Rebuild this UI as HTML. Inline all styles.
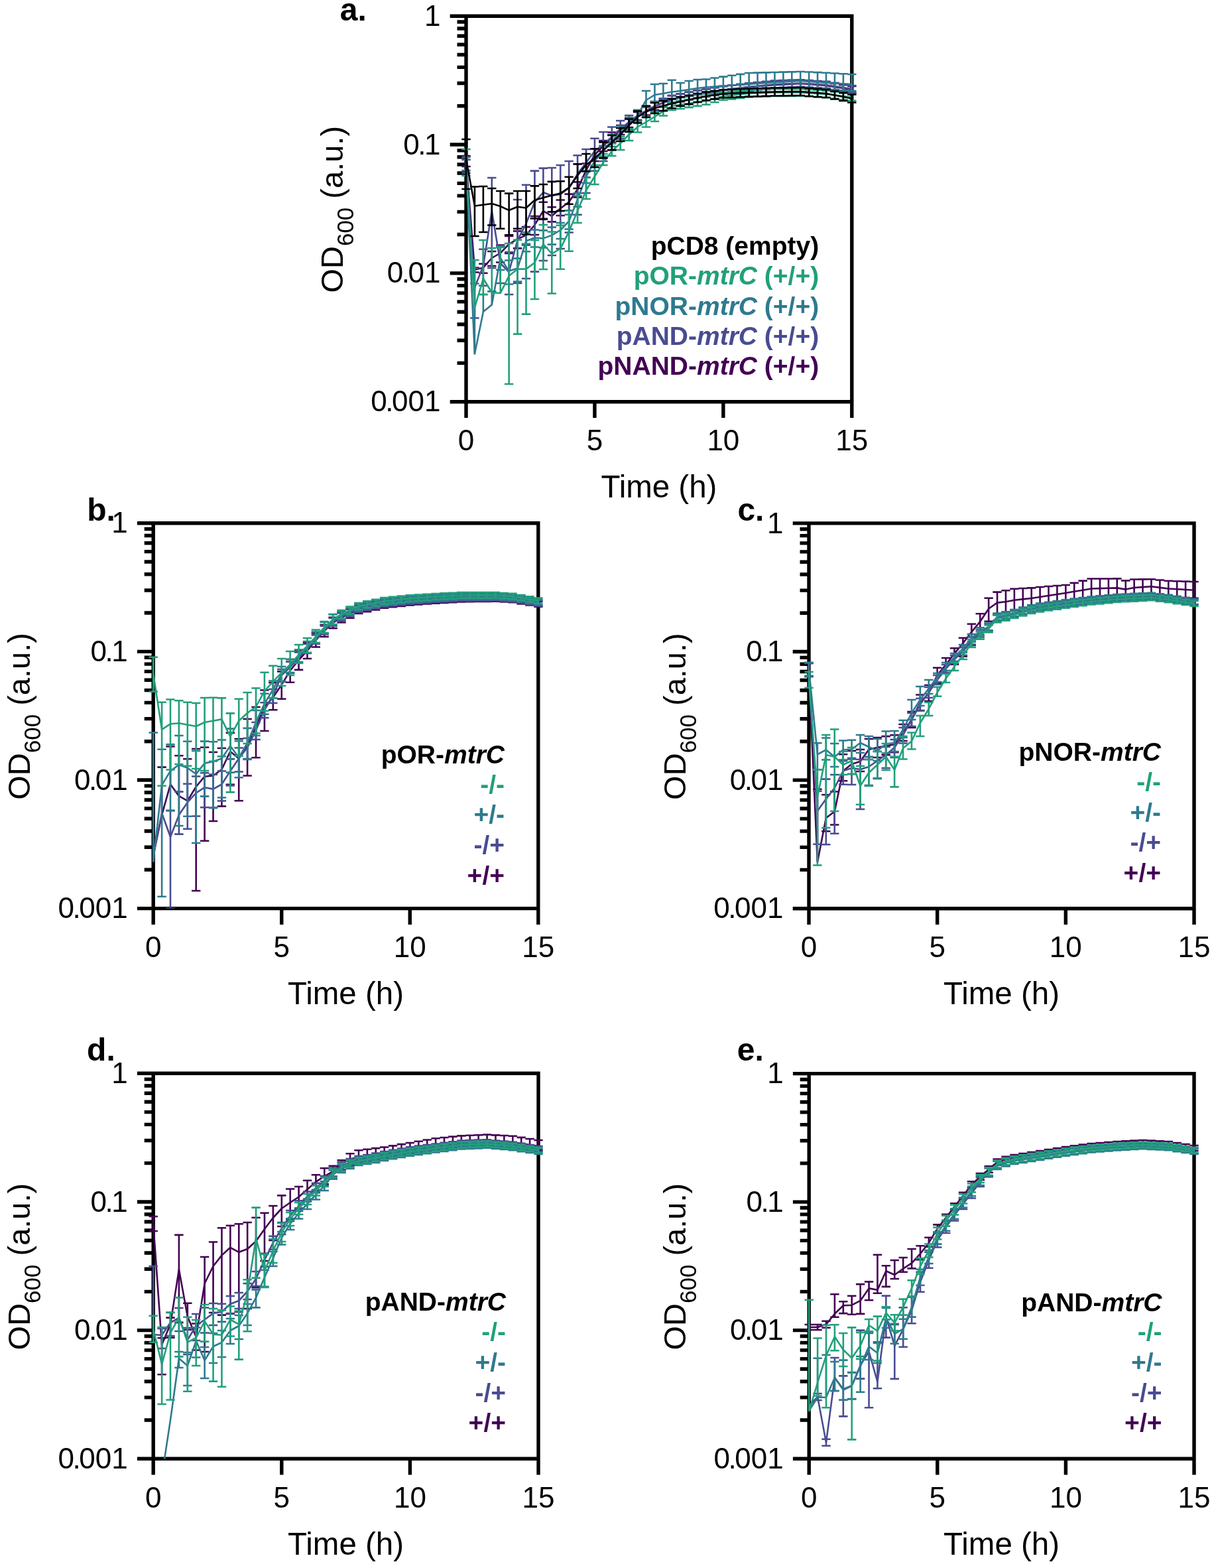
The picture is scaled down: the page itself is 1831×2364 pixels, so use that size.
<!DOCTYPE html>
<html><head><meta charset="utf-8"><title>Growth curves</title>
<style>html,body{margin:0;padding:0;background:#fff;}svg{display:block;}</style>
</head><body>
<svg xmlns="http://www.w3.org/2000/svg" width="1831" height="2364" viewBox="0 0 1831 2364">
<rect width="1831" height="2364" fill="#fff"/>
<path fill="none" stroke="#000" stroke-width="5.4" stroke-linecap="square" d="M703 24.2H1284.8V605.7H703ZM703 159.68H692.2M703 125.55H692.2M703 101.33H692.2M703 82.55H692.2M703 67.2H692.2M703 54.23H692.2M703 42.98H692.2M703 33.07H692.2M703 353.52H692.2M703 319.38H692.2M703 295.17H692.2M703 276.38H692.2M703 261.04H692.2M703 248.06H692.2M703 236.82H692.2M703 226.9H692.2M703 547.35H692.2M703 513.22H692.2M703 489H692.2M703 470.22H692.2M703 454.87H692.2M703 441.89H692.2M703 430.65H692.2M703 420.74H692.2M703 24.2H681.4M703 218.03H681.4M703 411.87H681.4M703 605.7H681.4M703 605.7V627.3M896.93 605.7V627.3M1090.87 605.7V627.3M1284.8 605.7V627.3"/>
<clipPath id="clipa"><rect x="663" y="-75.8" width="661.8" height="681.5"/></clipPath>
<g fill="none" stroke-linecap="butt" stroke-linejoin="round" clip-path="url(#clipa)">
<path stroke="#440154" stroke-width="2.6" d="M703 243V235M696.3 235H709.7M703 243V251M696.3 251H709.7M715.93 406.5V403.5M709.23 403.5H722.63M715.93 406.5V410.5M709.23 410.5H722.63M728.86 403.7V397.7M722.16 397.7H735.56M728.86 403.7V411.7M722.16 411.7H735.56M741.79 389V379M735.09 379H748.49M741.79 389V401M735.09 401H748.49M754.72 381.5V369.5M748.02 369.5H761.42M754.72 381.5V395.5M748.02 395.5H761.42M767.64 368V356M760.94 356H774.34M767.64 368V382M760.94 382H774.34M780.57 360.4V348.4M773.87 348.4H787.27M780.57 360.4V374.4M773.87 374.4H787.27M793.5 354.6V342.1M786.8 342.1H800.2M793.5 354.6V369.1M786.8 369.1H800.2M806.43 339V326M799.73 326H813.13M806.43 339V354M799.73 354H813.13M819.36 318V304.75M812.66 304.75H826.06M819.36 318V329.8M812.66 329.8H826.06M832.29 325.8V312.3M825.59 312.3H838.99M832.29 325.8V334.4M825.59 334.4H838.99M845.22 314.2V301.45M838.52 301.45H851.92M845.22 314.2V325M838.52 325H851.92M858.15 304.6V292.6M851.45 292.6H864.85M858.15 304.6V317.6M851.45 317.6H864.85M871.08 285.4V274.4M864.38 274.4H877.78M871.08 285.4V297.4M864.38 297.4H877.78M884 256.5V246.5M877.3 246.5H890.7M884 256.5V267.5M877.3 267.5H890.7M896.93 233.5V224.5M890.23 224.5H903.63M896.93 233.5V243M890.23 243H903.63M909.86 220V212M903.16 212H916.56M909.86 220V228M903.16 228H916.56M922.79 207V199.5M916.09 199.5H929.49M922.79 207V214.5M916.09 214.5H929.49M935.72 196V189M929.02 189H942.42M935.72 196V203M929.02 203H942.42M948.65 185.5V179M941.95 179H955.35M948.65 185.5V192M941.95 192H955.35M961.58 175V169M954.88 169H968.28M961.58 175V181M954.88 181H968.28M974.51 167.5V161.54M967.81 161.54H981.21M974.51 167.5V173.46M967.81 173.46H981.21M987.44 160V154.08M980.74 154.08H994.14M987.44 160V165.92M980.74 165.92H994.14M1000.36 155V149.12M993.66 149.12H1007.06M1000.36 155V160.88M993.66 160.88H1007.06M1013.29 150V144.16M1006.59 144.16H1019.99M1013.29 150V155.84M1006.59 155.84H1019.99M1026.22 147.33V141.53M1019.52 141.53H1032.92M1026.22 147.33V153.13M1019.52 153.13H1032.92M1039.15 144.67V138.91M1032.45 138.91H1045.85M1039.15 144.67V150.43M1032.45 150.43H1045.85M1052.08 142V136.28M1045.38 136.28H1058.78M1052.08 142V147.72M1045.38 147.72H1058.78M1065.01 139.83V134.15M1058.31 134.15H1071.71M1065.01 139.83V145.51M1058.31 145.51H1071.71M1077.94 137.67V132.03M1071.24 132.03H1084.64M1077.94 137.67V143.31M1071.24 143.31H1084.64M1090.87 135.5V129.9M1084.17 129.9H1097.57M1090.87 135.5V141.1M1084.17 141.1H1097.57M1103.8 134V128.44M1097.1 128.44H1110.5M1103.8 134V139.56M1097.1 139.56H1110.5M1116.72 132.5V126.98M1110.02 126.98H1123.42M1116.72 132.5V138.02M1110.02 138.02H1123.42M1129.65 131V125.52M1122.95 125.52H1136.35M1129.65 131V136.48M1122.95 136.48H1136.35M1142.58 130V124.56M1135.88 124.56H1149.28M1142.58 130V135.44M1135.88 135.44H1149.28M1155.51 129V123.6M1148.81 123.6H1162.21M1155.51 129V134.4M1148.81 134.4H1162.21M1168.44 128V122.64M1161.74 122.64H1175.14M1168.44 128V133.36M1161.74 133.36H1175.14M1181.37 127.33V122.01M1174.67 122.01H1188.07M1181.37 127.33V132.65M1174.67 132.65H1188.07M1194.3 126.67V121.39M1187.6 121.39H1201M1194.3 126.67V131.95M1187.6 131.95H1201M1207.23 126V120.76M1200.53 120.76H1213.93M1207.23 126V131.24M1200.53 131.24H1213.93M1220.16 127V121.8M1213.46 121.8H1226.86M1220.16 127V132.2M1213.46 132.2H1226.86M1233.08 128V122.84M1226.38 122.84H1239.78M1233.08 128V133.16M1226.38 133.16H1239.78M1246.01 129V123.88M1239.31 123.88H1252.71M1246.01 129V134.12M1239.31 134.12H1252.71M1258.94 131V125.92M1252.24 125.92H1265.64M1258.94 131V136.08M1252.24 136.08H1265.64M1271.87 133V127.96M1265.17 127.96H1278.57M1271.87 133V138.04M1265.17 138.04H1278.57M1284.8 135V130M1278.1 130H1291.5M1284.8 135V140M1278.1 140H1291.5"/>
<polyline stroke="#440154" stroke-width="2.6" points="703,243 715.93,406.5 728.86,403.7 741.79,389 754.72,381.5 767.64,368 780.57,360.4 793.5,354.6 806.43,339 819.36,318 832.29,325.8 845.22,314.2 858.15,304.6 871.08,285.4 884,256.5 896.93,233.5 909.86,220 922.79,207 935.72,196 948.65,185.5 961.58,175 974.51,167.5 987.44,160 1000.36,155 1013.29,150 1026.22,147.33 1039.15,144.67 1052.08,142 1065.01,139.83 1077.94,137.67 1090.87,135.5 1103.8,134 1116.72,132.5 1129.65,131 1142.58,130 1155.51,129 1168.44,128 1181.37,127.33 1194.3,126.67 1207.23,126 1220.16,127 1233.08,128 1246.01,129 1258.94,131 1271.87,133 1284.8,135"/>
<path stroke="#494c91" stroke-width="2.6" d="M703 250.8V240.8M696.3 240.8H709.7M703 250.8V260.8M696.3 260.8H709.7M715.93 433.5V404.5M709.23 404.5H722.63M715.93 433.5V479.5M709.23 479.5H722.63M728.86 400.8V375.8M722.16 375.8H735.56M728.86 400.8V430.8M722.16 430.8H735.56M741.79 318V268M735.09 268H748.49M741.79 318V404M735.09 404H748.49M754.72 397V372M748.02 372H761.42M754.72 397V427M748.02 427H761.42M767.64 410V380M760.94 380H774.34M767.64 410V444M760.94 444H774.34M780.57 362V301M773.87 301H787.27M780.57 362V427M773.87 427H787.27M793.5 337.3V278.7M786.8 278.7H800.2M793.5 337.3V420M786.8 420H800.2M806.43 304.6V257.6M799.73 257.6H813.13M806.43 304.6V409.6M799.73 409.6H813.13M819.36 290V253.6M812.66 253.6H826.06M819.36 290V393M812.66 393H826.06M832.29 295V253M825.59 253H838.99M832.29 295V385M825.59 385H838.99M845.22 293V249M838.52 249H851.92M845.22 293V375M838.52 375H851.92M858.15 283.5V243M851.45 243H864.85M858.15 283.5V350.5M851.45 350.5H864.85M871.08 262.3V234.3M864.38 234.3H877.78M871.08 262.3V323.8M864.38 323.8H877.78M884 245V225M877.3 225H890.7M884 245V291M877.3 291H890.7M896.93 227.7V208.7M890.23 208.7H903.63M896.93 227.7V257.7M890.23 257.7H903.63M909.86 218V199M903.16 199H916.56M909.86 218V243M903.16 243H916.56M922.79 206.5V191.5M916.09 191.5H929.49M922.79 206.5V226.5M916.09 226.5H929.49M935.72 194V182M929.02 182H942.42M935.72 194V209M929.02 209H942.42M948.65 184V174M941.95 174H955.35M948.65 184V195.5M941.95 195.5H955.35M961.58 174V166M954.88 166H968.28M961.58 174V182M954.88 182H968.28M974.51 167V159.5M967.81 159.5H981.21M974.51 167V174.5M967.81 174.5H981.21M987.44 160V153M980.74 153H994.14M987.44 160V167M980.74 167H994.14M1000.36 155V148.5M993.66 148.5H1007.06M1000.36 155V161.5M993.66 161.5H1007.06M1013.29 150V144M1006.59 144H1019.99M1013.29 150V156M1006.59 156H1019.99M1026.22 147.33V141.38M1019.52 141.38H1032.92M1026.22 147.33V153.29M1019.52 153.29H1032.92M1039.15 144.67V138.76M1032.45 138.76H1045.85M1039.15 144.67V150.57M1032.45 150.57H1045.85M1052.08 142V136.14M1045.38 136.14H1058.78M1052.08 142V147.86M1045.38 147.86H1058.78M1065.01 140V134.19M1058.31 134.19H1071.71M1065.01 140V145.81M1058.31 145.81H1071.71M1077.94 138V132.24M1071.24 132.24H1084.64M1077.94 138V143.76M1071.24 143.76H1084.64M1090.87 136V130.29M1084.17 130.29H1097.57M1090.87 136V141.71M1084.17 141.71H1097.57M1103.8 134.33V128.67M1097.1 128.67H1110.5M1103.8 134.33V140M1097.1 140H1110.5M1116.72 132.67V127.05M1110.02 127.05H1123.42M1116.72 132.67V138.29M1110.02 138.29H1123.42M1129.65 131V125.43M1122.95 125.43H1136.35M1129.65 131V136.57M1122.95 136.57H1136.35M1142.58 129.67V124.14M1135.88 124.14H1149.28M1142.58 129.67V135.19M1135.88 135.19H1149.28M1155.51 128.33V122.86M1148.81 122.86H1162.21M1155.51 128.33V133.81M1148.81 133.81H1162.21M1168.44 127V121.57M1161.74 121.57H1175.14M1168.44 127V132.43M1161.74 132.43H1175.14M1181.37 126.5V121.12M1174.67 121.12H1188.07M1181.37 126.5V131.88M1174.67 131.88H1188.07M1194.3 126V120.67M1187.6 120.67H1201M1194.3 126V131.33M1187.6 131.33H1201M1207.23 125.5V120.21M1200.53 120.21H1213.93M1207.23 125.5V130.79M1200.53 130.79H1213.93M1220.16 126.33V121.1M1213.46 121.1H1226.86M1220.16 126.33V131.57M1213.46 131.57H1226.86M1233.08 127.17V121.98M1226.38 121.98H1239.78M1233.08 127.17V132.36M1226.38 132.36H1239.78M1246.01 128V122.86M1239.31 122.86H1252.71M1246.01 128V133.14M1239.31 133.14H1252.71M1258.94 130V124.9M1252.24 124.9H1265.64M1258.94 130V135.1M1252.24 135.1H1265.64M1271.87 132V126.95M1265.17 126.95H1278.57M1271.87 132V137.05M1265.17 137.05H1278.57M1284.8 134V129M1278.1 129H1291.5M1284.8 134V139M1278.1 139H1291.5"/>
<polyline stroke="#494c91" stroke-width="2.6" points="703,250.8 715.93,433.5 728.86,400.8 741.79,318 754.72,397 767.64,410 780.57,362 793.5,337.3 806.43,304.6 819.36,290 832.29,295 845.22,293 858.15,283.5 871.08,262.3 884,245 896.93,227.7 909.86,218 922.79,206.5 935.72,194 948.65,184 961.58,174 974.51,167 987.44,160 1000.36,155 1013.29,150 1026.22,147.33 1039.15,144.67 1052.08,142 1065.01,140 1077.94,138 1090.87,136 1103.8,134.33 1116.72,132.67 1129.65,131 1142.58,129.67 1155.51,128.33 1168.44,127 1181.37,126.5 1194.3,126 1207.23,125.5 1220.16,126.33 1233.08,127.17 1246.01,128 1258.94,130 1271.87,132 1284.8,134"/>
<path stroke="#2e7a8f" stroke-width="2.6" d="M703 247V237M696.3 237H709.7M703 247V257M696.3 257H709.7M715.93 533.5V427.5M709.23 427.5H722.63M728.86 470V444M722.16 444H735.56M741.79 459.4V439.4M735.09 439.4H748.49M754.72 389V371M748.02 371H761.42M754.72 389V407M748.02 407H761.42M767.64 408.5V392.5M760.94 392.5H774.34M767.64 408.5V428.5M760.94 428.5H774.34M780.57 404.6V389.6M773.87 389.6H787.27M780.57 404.6V424.6M773.87 424.6H787.27M793.5 363.3V350.3M786.8 350.3H800.2M793.5 363.3V379.3M786.8 379.3H800.2M806.43 358.5V346.5M799.73 346.5H813.13M806.43 358.5V372.5M799.73 372.5H813.13M819.36 359.4V347.4M812.66 347.4H826.06M819.36 359.4V373.4M812.66 373.4H826.06M832.29 354.6V342.6M825.59 342.6H838.99M832.29 354.6V368.6M825.59 368.6H838.99M845.22 347V336M838.52 336H851.92M845.22 347V360M838.52 360H851.92M858.15 333.5V323.5M851.45 323.5H864.85M858.15 333.5V345.5M851.45 345.5H864.85M871.08 300.8V291.3M864.38 291.3H877.78M871.08 300.8V311.8M864.38 311.8H877.78M884 266V257M877.3 257H890.7M884 266V276M877.3 276H890.7M896.93 243V234.5M890.23 234.5H903.63M896.93 243V252M890.23 252H903.63M909.86 227.7V219.7M903.16 219.7H916.56M909.86 227.7V235.7M903.16 235.7H916.56M922.79 212V203M916.09 203H929.49M922.79 212V221M916.09 221H929.49M935.72 200V190M929.02 190H942.42M935.72 200V210M929.02 210H942.42M948.65 189V177M941.95 177H955.35M948.65 189V199M941.95 199H955.35M961.58 174V166M954.88 166H968.28M961.58 174V184M954.88 184H968.28M974.51 151V137M967.81 137H981.21M974.51 151V161M967.81 161H981.21M987.44 143V127M980.74 127H994.14M987.44 143V153M980.74 153H994.14M1000.36 141V126M993.66 126H1007.06M1000.36 141V151M993.66 151H1007.06M1013.29 138.5V120.8M1006.59 120.8H1019.99M1013.29 138.5V148.5M1006.59 148.5H1019.99M1026.22 137V125M1019.52 125H1032.92M1026.22 137V147M1019.52 147H1032.92M1039.15 135V122M1032.45 122H1045.85M1039.15 135V145M1032.45 145H1045.85M1052.08 133V120M1045.38 120H1058.78M1052.08 133V143M1045.38 143H1058.78M1065.01 131.5V119.5M1058.31 119.5H1071.71M1065.01 131.5V141.5M1058.31 141.5H1071.71M1077.94 130.55V117.55M1071.24 117.55H1084.64M1077.94 130.55V140.55M1071.24 140.55H1084.64M1090.87 129.6V115.6M1084.17 115.6H1097.57M1090.87 129.6V139.6M1084.17 139.6H1097.57M1103.8 128.73V113.73M1097.1 113.73H1110.5M1103.8 128.73V138.73M1097.1 138.73H1110.5M1116.72 127.87V111.87M1110.02 111.87H1123.42M1116.72 127.87V137.87M1110.02 137.87H1123.42M1129.65 127V110M1122.95 110H1136.35M1129.65 127V137M1122.95 137H1136.35M1142.58 126V109.67M1135.88 109.67H1149.28M1142.58 126V136M1135.88 136H1149.28M1155.51 125V109.33M1148.81 109.33H1162.21M1155.51 125V135M1148.81 135H1162.21M1168.44 124V109M1161.74 109H1175.14M1168.44 124V134M1161.74 134H1175.14M1181.37 123.33V108.67M1174.67 108.67H1188.07M1181.37 123.33V133.33M1174.67 133.33H1188.07M1194.3 122.67V108.33M1187.6 108.33H1201M1194.3 122.67V132.67M1187.6 132.67H1201M1207.23 122V108M1200.53 108H1213.93M1207.23 122V132M1200.53 132H1213.93M1220.16 122.9V108.57M1213.46 108.57H1226.86M1220.16 122.9V132.9M1213.46 132.9H1226.86M1233.08 123.8V109.13M1226.38 109.13H1239.78M1233.08 123.8V133.8M1226.38 133.8H1239.78M1246.01 124.7V109.7M1239.31 109.7H1252.71M1246.01 124.7V134.7M1239.31 134.7H1252.71M1258.94 125.47V110.47M1252.24 110.47H1265.64M1258.94 125.47V135.47M1252.24 135.47H1265.64M1271.87 126.23V111.23M1265.17 111.23H1278.57M1271.87 126.23V136.23M1265.17 136.23H1278.57M1284.8 127V112M1278.1 112H1291.5M1284.8 127V137M1278.1 137H1291.5"/>
<polyline stroke="#2e7a8f" stroke-width="2.6" points="703,247 715.93,533.5 728.86,470 741.79,459.4 754.72,389 767.64,408.5 780.57,404.6 793.5,363.3 806.43,358.5 819.36,359.4 832.29,354.6 845.22,347 858.15,333.5 871.08,300.8 884,266 896.93,243 909.86,227.7 922.79,212 935.72,200 948.65,189 961.58,174 974.51,151 987.44,143 1000.36,141 1013.29,138.5 1026.22,137 1039.15,135 1052.08,133 1065.01,131.5 1077.94,130.55 1090.87,129.6 1103.8,128.73 1116.72,127.87 1129.65,127 1142.58,126 1155.51,125 1168.44,124 1181.37,123.33 1194.3,122.67 1207.23,122 1220.16,122.9 1233.08,123.8 1246.01,124.7 1258.94,125.47 1271.87,126.23 1284.8,127"/>
<path stroke="#21a07b" stroke-width="2.6" d="M703 245V225M696.3 225H709.7M703 245V265M696.3 265H709.7M715.93 464V392M709.23 392H722.63M728.86 420V362M722.16 362H735.56M728.86 420V444M722.16 444H735.56M741.79 441V374M735.09 374H748.49M754.72 442V373M748.02 373H761.42M767.64 416V367M760.94 367H774.34M767.64 416V579M760.94 579H774.34M780.57 405.6V361.6M773.87 361.6H787.27M780.57 405.6V503.6M773.87 503.6H787.27M793.5 405.6V367.6M786.8 367.6H800.2M793.5 405.6V473.6M786.8 473.6H800.2M806.43 396V362M799.73 362H813.13M806.43 396V451M799.73 451H813.13M819.36 368V339M812.66 339H826.06M819.36 368V406M812.66 406H826.06M832.29 382.5V349.5M825.59 349.5H838.99M832.29 382.5V442.5M825.59 442.5H838.99M845.22 374.8V339.8M838.52 339.8H851.92M845.22 374.8V405.8M838.52 405.8H851.92M858.15 348.8V317.8M851.45 317.8H864.85M858.15 348.8V378.8M851.45 378.8H864.85M871.08 318V295M864.38 295H877.78M871.08 318V336M864.38 336H877.78M884 287V268M877.3 268H890.7M884 287V300M877.3 300H890.7M896.93 266V249M890.23 249H903.63M896.93 266V278M890.23 278H903.63M909.86 245V232M903.16 232H916.56M909.86 245V249M903.16 249H916.56M922.79 228V216.5M916.09 216.5H929.49M922.79 228V235M916.09 235H929.49M935.72 216V206M929.02 206H942.42M935.72 216V226M929.02 226H942.42M948.65 203V194M941.95 194H955.35M948.65 203V212M941.95 212H955.35M961.58 191.5V183.5M954.88 183.5H968.28M961.58 191.5V199.5M954.88 199.5H968.28M974.51 184V176.5M967.81 176.5H981.21M974.51 184V191.5M967.81 191.5H981.21M987.44 176V169M980.74 169H994.14M987.44 176V183M980.74 183H994.14M1000.36 168V161.5M993.66 161.5H1007.06M1000.36 168V174.5M993.66 174.5H1007.06M1013.29 160V154M1006.59 154H1019.99M1013.29 160V166M1006.59 166H1019.99M1026.22 158V152.05M1019.52 152.05H1032.92M1026.22 158V163.95M1019.52 163.95H1032.92M1039.15 156V150.1M1032.45 150.1H1045.85M1039.15 156V161.9M1032.45 161.9H1045.85M1052.08 154V148.14M1045.38 148.14H1058.78M1052.08 154V159.86M1045.38 159.86H1058.78M1065.01 152V146.19M1058.31 146.19H1071.71M1065.01 152V157.81M1058.31 157.81H1071.71M1077.94 148.5V142.74M1071.24 142.74H1084.64M1077.94 148.5V154.26M1071.24 154.26H1084.64M1090.87 145V139.29M1084.17 139.29H1097.57M1090.87 145V150.71M1084.17 150.71H1097.57M1103.8 143.67V138M1097.1 138H1110.5M1103.8 143.67V149.33M1097.1 149.33H1110.5M1116.72 142.33V136.71M1110.02 136.71H1123.42M1116.72 142.33V147.95M1110.02 147.95H1123.42M1129.65 141V135.43M1122.95 135.43H1136.35M1129.65 141V146.57M1122.95 146.57H1136.35M1142.58 140.5V134.98M1135.88 134.98H1149.28M1142.58 140.5V146.02M1135.88 146.02H1149.28M1155.51 140V134.52M1148.81 134.52H1162.21M1155.51 140V145.48M1148.81 145.48H1162.21M1168.44 139.5V134.07M1161.74 134.07H1175.14M1168.44 139.5V144.93M1161.74 144.93H1175.14M1181.37 139.5V134.12M1174.67 134.12H1188.07M1181.37 139.5V144.88M1174.67 144.88H1188.07M1194.3 139.5V134.17M1187.6 134.17H1201M1194.3 139.5V144.83M1187.6 144.83H1201M1207.23 139.5V134.21M1200.53 134.21H1213.93M1207.23 139.5V144.79M1200.53 144.79H1213.93M1220.16 140.33V135.1M1213.46 135.1H1226.86M1220.16 140.33V145.57M1213.46 145.57H1226.86M1233.08 141.17V135.98M1226.38 135.98H1239.78M1233.08 141.17V146.36M1226.38 146.36H1239.78M1246.01 142V136.86M1239.31 136.86H1252.71M1246.01 142V147.14M1239.31 147.14H1252.71M1258.94 143.57V138.47M1252.24 138.47H1265.64M1258.94 143.57V148.66M1252.24 148.66H1265.64M1271.87 145.13V140.09M1265.17 140.09H1278.57M1271.87 145.13V150.18M1265.17 150.18H1278.57M1284.8 146.7V141.7M1278.1 141.7H1291.5M1284.8 146.7V151.7M1278.1 151.7H1291.5"/>
<polyline stroke="#21a07b" stroke-width="2.6" points="703,245 715.93,464 728.86,420 741.79,441 754.72,442 767.64,416 780.57,405.6 793.5,405.6 806.43,396 819.36,368 832.29,382.5 845.22,374.8 858.15,348.8 871.08,318 884,287 896.93,266 909.86,245 922.79,228 935.72,216 948.65,203 961.58,191.5 974.51,184 987.44,176 1000.36,168 1013.29,160 1026.22,158 1039.15,156 1052.08,154 1065.01,152 1077.94,148.5 1090.87,145 1103.8,143.67 1116.72,142.33 1129.65,141 1142.58,140.5 1155.51,140 1168.44,139.5 1181.37,139.5 1194.3,139.5 1207.23,139.5 1220.16,140.33 1233.08,141.17 1246.01,142 1258.94,143.57 1271.87,145.13 1284.8,146.7"/>
<path stroke="#000000" stroke-width="2.6" d="M703 240V210M696.3 210H709.7M703 240V285M696.3 285H709.7M715.93 310.5V281.5M709.23 281.5H722.63M715.93 310.5V356M709.23 356H722.63M728.86 308.7V281M722.16 281H735.56M728.86 308.7V350M722.16 350H735.56M741.79 307V284M735.09 284H748.49M741.79 307V339.5M735.09 339.5H748.49M754.72 311V288M748.02 288H761.42M754.72 311V344.8M748.02 344.8H761.42M767.64 317V291.6M760.94 291.6H774.34M767.64 317V354.3M760.94 354.3H774.34M780.57 311.7V288M773.87 288H787.27M780.57 311.7V344.7M773.87 344.7H787.27M793.5 313.5V288M786.8 288H800.2M793.5 313.5V353.5M786.8 353.5H800.2M806.43 301.7V280.4M799.73 280.4H813.13M806.43 301.7V329.4M799.73 329.4H813.13M819.36 298V278M812.66 278H826.06M819.36 298V330.6M812.66 330.6H826.06M832.29 294.6V273.9M825.59 273.9H838.99M832.29 294.6V319.4M825.59 319.4H838.99M845.22 291.6V273.3M838.52 273.3H851.92M845.22 291.6V318M838.52 318H851.92M858.15 282.7V266.7M851.45 266.7H864.85M858.15 282.7V307.7M851.45 307.7H864.85M871.08 264.4V247.4M864.38 247.4H877.78M871.08 264.4V284M864.38 284H877.78M884 248.5V232M877.3 232H890.7M884 248.5V258.5M877.3 258.5H890.7M896.93 239V224.2M890.23 224.2H903.63M896.93 239V252M890.23 252H903.63M909.86 226.4V214.4M903.16 214.4H916.56M909.86 226.4V238.4M903.16 238.4H916.56M922.79 215V204M916.09 204H929.49M922.79 215V226M916.09 226H929.49M935.72 203V193M929.02 193H942.42M935.72 203V213M929.02 213H942.42M948.65 189V179.5M941.95 179.5H955.35M948.65 189V198.5M941.95 198.5H955.35M961.58 176.5V167.5M954.88 167.5H968.28M961.58 176.5V185.5M954.88 185.5H968.28M974.51 168.5V160M967.81 160H981.21M974.51 168.5V177M967.81 177H981.21M987.44 163V155M980.74 155H994.14M987.44 163V171M980.74 171H994.14M1000.36 159.6V152.1M993.66 152.1H1007.06M1000.36 159.6V167.1M993.66 167.1H1007.06M1013.29 156.3V149.3M1006.59 149.3H1019.99M1013.29 156.3V163.3M1006.59 163.3H1019.99M1026.22 153V146.17M1019.52 146.17H1032.92M1026.22 153V159.83M1019.52 159.83H1032.92M1039.15 150.5V143.83M1032.45 143.83H1045.85M1039.15 150.5V157.17M1032.45 157.17H1045.85M1052.08 147.5V141M1045.38 141H1058.78M1052.08 147.5V154M1045.38 154H1058.78M1065.01 145V138.67M1058.31 138.67H1071.71M1065.01 145V151.33M1058.31 151.33H1071.71M1077.94 143.25V137.08M1071.24 137.08H1084.64M1077.94 143.25V149.42M1071.24 149.42H1084.64M1090.87 141.5V135.5M1084.17 135.5H1097.57M1090.87 141.5V147.5M1084.17 147.5H1097.57M1103.8 140.87V134.87M1097.1 134.87H1110.5M1103.8 140.87V146.87M1097.1 146.87H1110.5M1116.72 140.23V134.23M1110.02 134.23H1123.42M1116.72 140.23V146.23M1110.02 146.23H1123.42M1129.65 139.6V133.6M1122.95 133.6H1136.35M1129.65 139.6V145.6M1122.95 145.6H1136.35M1142.58 139.23V133.23M1135.88 133.23H1149.28M1142.58 139.23V145.23M1135.88 145.23H1149.28M1155.51 138.87V132.87M1148.81 132.87H1162.21M1155.51 138.87V144.87M1148.81 144.87H1162.21M1168.44 138.5V132.5M1161.74 132.5H1175.14M1168.44 138.5V144.5M1161.74 144.5H1175.14M1181.37 138.33V132.33M1174.67 132.33H1188.07M1181.37 138.33V144.33M1174.67 144.33H1188.07M1194.3 138.17V132.17M1187.6 132.17H1201M1194.3 138.17V144.17M1187.6 144.17H1201M1207.23 138V132M1200.53 132H1213.93M1207.23 138V144M1200.53 144H1213.93M1220.16 139V133M1213.46 133H1226.86M1220.16 139V145M1213.46 145H1226.86M1233.08 140V134M1226.38 134H1239.78M1233.08 140V146M1226.38 146H1239.78M1246.01 141V135M1239.31 135H1252.71M1246.01 141V147M1239.31 147H1252.71M1258.94 143.5V137.5M1252.24 137.5H1265.64M1258.94 143.5V149.5M1252.24 149.5H1265.64M1271.87 146V140M1265.17 140H1278.57M1271.87 146V152M1265.17 152H1278.57M1284.8 148.5V142.5M1278.1 142.5H1291.5M1284.8 148.5V154.5M1278.1 154.5H1291.5"/>
<polyline stroke="#000000" stroke-width="2.6" points="703,240 715.93,310.5 728.86,308.7 741.79,307 754.72,311 767.64,317 780.57,311.7 793.5,313.5 806.43,301.7 819.36,298 832.29,294.6 845.22,291.6 858.15,282.7 871.08,264.4 884,248.5 896.93,239 909.86,226.4 922.79,215 935.72,203 948.65,189 961.58,176.5 974.51,168.5 987.44,163 1000.36,159.6 1013.29,156.3 1026.22,153 1039.15,150.5 1052.08,147.5 1065.01,145 1077.94,143.25 1090.87,141.5 1103.8,140.87 1116.72,140.23 1129.65,139.6 1142.58,139.23 1155.51,138.87 1168.44,138.5 1181.37,138.33 1194.3,138.17 1207.23,138 1220.16,139 1233.08,140 1246.01,141 1258.94,143.5 1271.87,146 1284.8,148.5"/>
</g>
<g font-family="'Liberation Sans', Arial, Helvetica, sans-serif" font-size="44" fill="#000">
<text x="664.5" y="38.8" text-anchor="end">1</text>
<text x="664.5" y="232.63" text-anchor="end">0<tspan dx="-2.5">.</tspan><tspan dx="-2.5">1</tspan></text>
<text x="664.5" y="426.47" text-anchor="end">0<tspan dx="-2.5">.</tspan><tspan dx="-2.5">01</tspan></text>
<text x="664.5" y="620.3" text-anchor="end">0<tspan dx="-2.5">.</tspan><tspan dx="-2.5">001</tspan></text>
<text x="703" y="679" text-anchor="middle">0</text>
<text x="896.93" y="679" text-anchor="middle">5</text>
<text x="1090.87" y="679" text-anchor="middle">10</text>
<text x="1284.8" y="679" text-anchor="middle">15</text>
</g>
<text font-family="'Liberation Sans', Arial, Helvetica, sans-serif" font-size="47.5" x="993.9" y="750" text-anchor="middle">Time (h)</text>
<text font-family="'Liberation Sans', Arial, Helvetica, sans-serif" font-size="47" transform="translate(516.5 315.75) rotate(-90)" text-anchor="middle">OD<tspan font-size="35" dy="16">600</tspan><tspan dy="-16"> (a.u.)</tspan></text>
<text font-family="'Liberation Sans', Arial, Helvetica, sans-serif" font-size="48" font-weight="bold" x="512.8" y="30.7">a.</text>
<g font-family="'Liberation Sans', Arial, Helvetica, sans-serif" font-size="39" font-weight="bold" text-anchor="end">
<text x="1235.2" y="384.2" fill="#000000">pCD8 (empty)</text>
<text x="1235.2" y="429.4" fill="#21a07b">pOR-<tspan font-style="italic">mtrC</tspan> (+/+)</text>
<text x="1235.2" y="474.6" fill="#2e7a8f">pNOR-<tspan font-style="italic">mtrC</tspan> (+/+)</text>
<text x="1235.2" y="519.8" fill="#494c91">pAND-<tspan font-style="italic">mtrC</tspan> (+/+)</text>
<text x="1235.2" y="565" fill="#440154">pNAND-<tspan font-style="italic">mtrC</tspan> (+/+)</text>
</g>
<path fill="none" stroke="#000" stroke-width="5.4" stroke-linecap="square" d="M231.2 788.7H811.8V1369.6H231.2ZM231.2 924.04H220.4M231.2 889.95H220.4M231.2 865.75H220.4M231.2 846.99H220.4M231.2 831.66H220.4M231.2 818.69H220.4M231.2 807.47H220.4M231.2 797.56H220.4M231.2 1117.68H220.4M231.2 1083.58H220.4M231.2 1059.39H220.4M231.2 1040.62H220.4M231.2 1025.29H220.4M231.2 1012.33H220.4M231.2 1001.1H220.4M231.2 991.19H220.4M231.2 1311.31H220.4M231.2 1277.21H220.4M231.2 1253.02H220.4M231.2 1234.26H220.4M231.2 1218.92H220.4M231.2 1205.96H220.4M231.2 1194.73H220.4M231.2 1184.83H220.4M231.2 788.7H209.6M231.2 982.33H209.6M231.2 1175.97H209.6M231.2 1369.6H209.6M231.2 1369.6V1391.2M424.73 1369.6V1391.2M618.27 1369.6V1391.2M811.8 1369.6V1391.2"/>
<clipPath id="clipb"><rect x="191.2" y="688.7" width="660.6" height="680.9"/></clipPath>
<g fill="none" stroke-linecap="butt" stroke-linejoin="round" clip-path="url(#clipb)">
<path stroke="#440154" stroke-width="2.6" d="M244.1 1228.6V1156.6M237.4 1156.6H250.8M257 1182.5V1125.5M250.3 1125.5H263.7M269.91 1200.2V1139.2M263.21 1139.2H276.61M282.81 1207.3V1144.3M276.11 1144.3H289.51M295.71 1186V1129M289.01 1129H302.41M295.71 1186V1343M289.01 1343H302.41M308.61 1170.7V1126.7M301.91 1126.7H315.31M308.61 1170.7V1267.7M301.91 1267.7H315.31M321.52 1169.5V1134M314.82 1134H328.22M321.52 1169.5V1238M314.82 1238H328.22M334.42 1160V1128M327.72 1128H341.12M334.42 1160V1215.6M327.72 1215.6H341.12M347.32 1132.9V1104.9M340.62 1104.9H354.02M347.32 1132.9V1182.9M340.62 1182.9H354.02M360.22 1143.5V1114M353.52 1114H366.92M360.22 1143.5V1207.3M353.52 1207.3H366.92M373.12 1124V1084M366.42 1084H379.82M373.12 1124V1169.5M366.42 1169.5H379.82M386.03 1096V1066M379.33 1066H392.73M386.03 1096V1142.3M379.33 1142.3H392.73M398.93 1065.5V1040.5M392.23 1040.5H405.63M398.93 1065.5V1102M392.23 1102H405.63M411.83 1051.3V1029.3M405.13 1029.3H418.53M411.83 1051.3V1070.3M405.13 1070.3H418.53M424.73 1032.4V1012.4M418.03 1012.4H431.43M424.73 1032.4V1053.7M418.03 1053.7H431.43M437.64 1011V994M430.94 994H444.34M437.64 1011V1028.8M430.94 1028.8H444.34M450.54 995V980.5M443.84 980.5H457.24M450.54 995V1009.9M443.84 1009.9H457.24M463.44 981V969M456.74 969H470.14M463.44 981V993M456.74 993H470.14M476.34 965V954.5M469.64 954.5H483.04M476.34 965V975.5M469.64 975.5H483.04M489.24 951V942M482.54 942H495.94M489.24 951V960M482.54 960H495.94M502.15 939V930.75M495.45 930.75H508.85M502.15 939V947.25M495.45 947.25H508.85M515.05 931V923.5M508.35 923.5H521.75M515.05 931V938.5M508.35 938.5H521.75M527.95 925V918.25M521.25 918.25H534.65M527.95 925V931.75M521.25 931.75H534.65M540.85 919V913M534.15 913H547.55M540.85 919V925M534.15 925H547.55M553.76 916.33V910.43M547.06 910.43H560.46M553.76 916.33V922.24M547.06 922.24H560.46M566.66 913.67V907.86M559.96 907.86H573.36M566.66 913.67V919.48M559.96 919.48H573.36M579.56 911V905.29M572.86 905.29H586.26M579.56 911V916.71M572.86 916.71H586.26M592.46 909.67V904.05M585.76 904.05H599.16M592.46 909.67V915.29M585.76 915.29H599.16M605.36 908.33V902.81M598.66 902.81H612.06M605.36 908.33V913.86M598.66 913.86H612.06M618.27 907V901.57M611.57 901.57H624.97M618.27 907V912.43M611.57 912.43H624.97M631.17 906.17V900.83M624.47 900.83H637.87M631.17 906.17V911.5M624.47 911.5H637.87M644.07 905.33V900.1M637.37 900.1H650.77M644.07 905.33V910.57M637.37 910.57H650.77M656.97 904.5V899.36M650.27 899.36H663.67M656.97 904.5V909.64M650.27 909.64H663.67M669.88 903.83V898.79M663.18 898.79H676.58M669.88 903.83V908.88M663.18 908.88H676.58M682.78 903.17V898.21M676.08 898.21H689.48M682.78 903.17V908.12M676.08 908.12H689.48M695.68 902.5V897.64M688.98 897.64H702.38M695.68 902.5V907.36M688.98 907.36H702.38M708.58 902.45V897.69M701.88 897.69H715.28M708.58 902.45V907.21M701.88 907.21H715.28M721.48 902.4V897.73M714.78 897.73H728.18M721.48 902.4V907.07M714.78 907.07H728.18M734.39 902.35V897.78M727.69 897.78H741.09M734.39 902.35V906.92M727.69 906.92H741.09M747.29 902.3V897.82M740.59 897.82H753.99M747.29 902.3V906.78M740.59 906.78H753.99M760.19 903.15V898.77M753.49 898.77H766.89M760.19 903.15V907.53M753.49 907.53H766.89M773.09 904V899.71M766.39 899.71H779.79M773.09 904V908.29M766.39 908.29H779.79M786 906.2V902.01M779.3 902.01H792.7M786 906.2V910.39M779.3 910.39H792.7M798.9 908.4V904.3M792.2 904.3H805.6M798.9 908.4V912.5M792.2 912.5H805.6M811.8 910.6V906.6M805.1 906.6H818.5M811.8 910.6V914.6M805.1 914.6H818.5"/>
<polyline stroke="#440154" stroke-width="2.6" points="231.2,1290 244.1,1228.6 257,1182.5 269.91,1200.2 282.81,1207.3 295.71,1186 308.61,1170.7 321.52,1169.5 334.42,1160 347.32,1132.9 360.22,1143.5 373.12,1124 386.03,1096 398.93,1065.5 411.83,1051.3 424.73,1032.4 437.64,1011 450.54,995 463.44,981 476.34,965 489.24,951 502.15,939 515.05,931 527.95,925 540.85,919 553.76,916.33 566.66,913.67 579.56,911 592.46,909.67 605.36,908.33 618.27,907 631.17,906.17 644.07,905.33 656.97,904.5 669.88,903.83 682.78,903.17 695.68,902.5 708.58,902.45 721.48,902.4 734.39,902.35 747.29,902.3 760.19,903.15 773.09,904 786,906.2 798.9,908.4 811.8,910.6"/>
<path stroke="#494c91" stroke-width="2.6" d="M257 1261.7V1221.7M250.3 1221.7H263.7M257 1261.7V1369.2M250.3 1369.2H263.7M269.91 1228.6V1193.6M263.21 1193.6H276.61M269.91 1228.6V1257.6M263.21 1257.6H276.61M282.81 1209.7V1181.7M276.11 1181.7H289.51M282.81 1209.7V1249.7M276.11 1249.7H289.51M295.71 1195.5V1170.5M289.01 1170.5H302.41M295.71 1195.5V1230.5M289.01 1230.5H302.41M308.61 1187.2V1165.2M301.91 1165.2H315.31M308.61 1187.2V1217.2M301.91 1217.2H315.31M321.52 1189.6V1167.6M314.82 1167.6H328.22M321.52 1189.6V1217.6M314.82 1217.6H328.22M334.42 1182.5V1162.5M327.72 1162.5H341.12M334.42 1182.5V1207.5M327.72 1207.5H341.12M347.32 1162.4V1144.4M340.62 1144.4H354.02M347.32 1162.4V1184.4M340.62 1184.4H354.02M360.22 1143.5V1127.5M353.52 1127.5H366.92M360.22 1143.5V1163.5M353.52 1163.5H366.92M373.12 1127V1113M366.42 1113H379.82M373.12 1127V1144M366.42 1144H379.82M386.03 1101V1089M379.33 1089H392.73M386.03 1101V1115M379.33 1115H392.73M398.93 1070.2V1059.2M392.23 1059.2H405.63M398.93 1070.2V1082.2M392.23 1082.2H405.63M411.83 1049V1039M405.13 1039H418.53M411.83 1049V1060M405.13 1060H418.53M424.73 1018V1009M418.03 1009H431.43M424.73 1018V1028M418.03 1028H431.43M437.64 1006V997.67M430.94 997.67H444.34M437.64 1006V1015M430.94 1015H444.34M450.54 991V983.33M443.84 983.33H457.24M450.54 991V999M443.84 999H457.24M463.44 978V971M456.74 971H470.14M463.44 978V985M456.74 985H470.14M476.34 964V957.33M469.64 957.33H483.04M476.34 964V970.67M469.64 970.67H483.04M489.24 950V943.67M482.54 943.67H495.94M489.24 950V956.33M482.54 956.33H495.94M502.15 938V932M495.45 932H508.85M502.15 938V944M495.45 944H508.85M515.05 930V924.33M508.35 924.33H521.75M515.05 930V935.67M508.35 935.67H521.75M527.95 924V918.67M521.25 918.67H534.65M527.95 924V929.33M521.25 929.33H534.65M540.85 918V913M534.15 913H547.55M540.85 918V923M534.15 923H547.55M553.76 915.33V910.38M547.06 910.38H560.46M553.76 915.33V920.29M547.06 920.29H560.46M566.66 912.67V907.76M559.96 907.76H573.36M566.66 912.67V917.57M559.96 917.57H573.36M579.56 910V905.14M572.86 905.14H586.26M579.56 910V914.86M572.86 914.86H586.26M592.46 908.67V903.86M585.76 903.86H599.16M592.46 908.67V913.48M585.76 913.48H599.16M605.36 907.33V902.57M598.66 902.57H612.06M605.36 907.33V912.1M598.66 912.1H612.06M618.27 906V901.29M611.57 901.29H624.97M618.27 906V910.71M611.57 910.71H624.97M631.17 905.17V900.5M624.47 900.5H637.87M631.17 905.17V909.83M624.47 909.83H637.87M644.07 904.33V899.71M637.37 899.71H650.77M644.07 904.33V908.95M637.37 908.95H650.77M656.97 903.5V898.93M650.27 898.93H663.67M656.97 903.5V908.07M650.27 908.07H663.67M669.88 902.83V898.31M663.18 898.31H676.58M669.88 902.83V907.36M663.18 907.36H676.58M682.78 902.17V897.69M676.08 897.69H689.48M682.78 902.17V906.64M676.08 906.64H689.48M695.68 901.5V897.07M688.98 897.07H702.38M695.68 901.5V905.93M688.98 905.93H702.38M708.58 901.45V897.07M701.88 897.07H715.28M708.58 901.45V905.83M701.88 905.83H715.28M721.48 901.4V897.07M714.78 897.07H728.18M721.48 901.4V905.73M714.78 905.73H728.18M734.39 901.35V897.06M727.69 897.06H741.09M734.39 901.35V905.64M727.69 905.64H741.09M747.29 901.3V897.06M740.59 897.06H753.99M747.29 901.3V905.54M740.59 905.54H753.99M760.19 902.15V897.96M753.49 897.96H766.89M760.19 902.15V906.34M753.49 906.34H766.89M773.09 903V898.86M766.39 898.86H779.79M773.09 903V907.14M766.39 907.14H779.79M786 905.2V901.1M779.3 901.1H792.7M786 905.2V909.3M779.3 909.3H792.7M798.9 907.4V903.35M792.2 903.35H805.6M798.9 907.4V911.45M792.2 911.45H805.6M811.8 909.6V905.6M805.1 905.6H818.5M811.8 909.6V913.6M805.1 913.6H818.5"/>
<polyline stroke="#494c91" stroke-width="2.6" points="231.2,1290 244.1,1226 257,1261.7 269.91,1228.6 282.81,1209.7 295.71,1195.5 308.61,1187.2 321.52,1189.6 334.42,1182.5 347.32,1162.4 360.22,1143.5 373.12,1127 386.03,1101 398.93,1070.2 411.83,1049 424.73,1018 437.64,1006 450.54,991 463.44,978 476.34,964 489.24,950 502.15,938 515.05,930 527.95,924 540.85,918 553.76,915.33 566.66,912.67 579.56,910 592.46,908.67 605.36,907.33 618.27,906 631.17,905.17 644.07,904.33 656.97,903.5 669.88,902.83 682.78,902.17 695.68,901.5 708.58,901.45 721.48,901.4 734.39,901.35 747.29,901.3 760.19,902.15 773.09,903 786,905.2 798.9,907.4 811.8,909.6"/>
<path stroke="#2e7a8f" stroke-width="2.6" d="M231.2 1299.5V1104.5M224.5 1104.5H237.9M244.1 1183.7V1129.7M237.4 1129.7H250.8M244.1 1183.7V1351.7M237.4 1351.7H250.8M257 1162.4V1122.4M250.3 1122.4H263.7M257 1162.4V1222.4M250.3 1222.4H263.7M269.91 1153V1109M263.21 1109H276.61M269.91 1153V1245M263.21 1245H276.61M282.81 1157.7V1117.7M276.11 1117.7H289.51M282.81 1157.7V1230.7M276.11 1230.7H289.51M295.71 1167V1132M289.01 1132H302.41M295.71 1167V1271M289.01 1271H302.41M308.61 1150.6V1117.6M301.91 1117.6H315.31M308.61 1150.6V1200.6M301.91 1200.6H315.31M321.52 1148.2V1118.2M314.82 1118.2H328.22M321.52 1148.2V1218.2M314.82 1218.2H328.22M334.42 1143.5V1115.5M327.72 1115.5H341.12M334.42 1143.5V1202.5M327.72 1202.5H341.12M347.32 1124.6V1098.6M340.62 1098.6H354.02M347.32 1124.6V1164.6M340.62 1164.6H354.02M360.22 1142.3V1117.3M353.52 1117.3H366.92M360.22 1142.3V1172.3M353.52 1172.3H366.92M373.12 1119.9V1097.9M366.42 1097.9H379.82M373.12 1119.9V1144.9M366.42 1144.9H379.82M386.03 1089V1071M379.33 1071H392.73M386.03 1089V1109M379.33 1109H392.73M398.93 1060.8V1045.8M392.23 1045.8H405.63M398.93 1060.8V1076.8M392.23 1076.8H405.63M411.83 1039.5V1026.5M405.13 1026.5H418.53M411.83 1039.5V1052.5M405.13 1052.5H418.53M424.73 1016V1005M418.03 1005H431.43M424.73 1016V1027M418.03 1027H431.43M437.64 1004V994M430.94 994H444.34M437.64 1004V1014M430.94 1014H444.34M450.54 989V979.5M443.84 979.5H457.24M450.54 989V998M443.84 998H457.24M463.44 976V967M456.74 967H470.14M463.44 976V984M456.74 984H470.14M476.34 962V952.5M469.64 952.5H483.04M476.34 962V969.5M469.64 969.5H483.04M489.24 948V938M482.54 938H495.94M489.24 948V955M482.54 955H495.94M502.15 936V926M495.45 926H508.85M502.15 936V942.5M495.45 942.5H508.85M515.05 928V922M508.35 922H521.75M515.05 928V934M508.35 934H521.75M527.95 922V916.5M521.25 916.5H534.65M527.95 922V927.5M521.25 927.5H534.65M540.85 916V911M534.15 911H547.55M540.85 916V921M534.15 921H547.55M553.76 913.33V908.38M547.06 908.38H560.46M553.76 913.33V918.29M547.06 918.29H560.46M566.66 910.67V905.76M559.96 905.76H573.36M566.66 910.67V915.57M559.96 915.57H573.36M579.56 908V903.14M572.86 903.14H586.26M579.56 908V912.86M572.86 912.86H586.26M592.46 906.67V901.86M585.76 901.86H599.16M592.46 906.67V911.48M585.76 911.48H599.16M605.36 905.33V900.57M598.66 900.57H612.06M605.36 905.33V910.1M598.66 910.1H612.06M618.27 904V899.29M611.57 899.29H624.97M618.27 904V908.71M611.57 908.71H624.97M631.17 903.17V898.5M624.47 898.5H637.87M631.17 903.17V907.83M624.47 907.83H637.87M644.07 902.33V897.71M637.37 897.71H650.77M644.07 902.33V906.95M637.37 906.95H650.77M656.97 901.5V896.93M650.27 896.93H663.67M656.97 901.5V906.07M650.27 906.07H663.67M669.88 900.83V896.31M663.18 896.31H676.58M669.88 900.83V905.36M663.18 905.36H676.58M682.78 900.17V895.69M676.08 895.69H689.48M682.78 900.17V904.64M676.08 904.64H689.48M695.68 899.5V895.07M688.98 895.07H702.38M695.68 899.5V903.93M688.98 903.93H702.38M708.58 899.45V895.07M701.88 895.07H715.28M708.58 899.45V903.83M701.88 903.83H715.28M721.48 899.4V895.07M714.78 895.07H728.18M721.48 899.4V903.73M714.78 903.73H728.18M734.39 899.35V895.06M727.69 895.06H741.09M734.39 899.35V903.64M727.69 903.64H741.09M747.29 899.3V895.06M740.59 895.06H753.99M747.29 899.3V903.54M740.59 903.54H753.99M760.19 900.15V895.96M753.49 895.96H766.89M760.19 900.15V904.34M753.49 904.34H766.89M773.09 901V896.86M766.39 896.86H779.79M773.09 901V905.14M766.39 905.14H779.79M786 903.2V899.1M779.3 899.1H792.7M786 903.2V907.3M779.3 907.3H792.7M798.9 905.4V901.35M792.2 901.35H805.6M798.9 905.4V909.45M792.2 909.45H805.6M811.8 907.6V903.6M805.1 903.6H818.5M811.8 907.6V911.6M805.1 911.6H818.5"/>
<polyline stroke="#2e7a8f" stroke-width="2.6" points="231.2,1299.5 244.1,1183.7 257,1162.4 269.91,1153 282.81,1157.7 295.71,1167 308.61,1150.6 321.52,1148.2 334.42,1143.5 347.32,1124.6 360.22,1142.3 373.12,1119.9 386.03,1089 398.93,1060.8 411.83,1039.5 424.73,1016 437.64,1004 450.54,989 463.44,976 476.34,962 489.24,948 502.15,936 515.05,928 527.95,922 540.85,916 553.76,913.33 566.66,910.67 579.56,908 592.46,906.67 605.36,905.33 618.27,904 631.17,903.17 644.07,902.33 656.97,901.5 669.88,900.83 682.78,900.17 695.68,899.5 708.58,899.45 721.48,899.4 734.39,899.35 747.29,899.3 760.19,900.15 773.09,901 786,903.2 798.9,905.4 811.8,907.6"/>
<path stroke="#21a07b" stroke-width="2.6" d="M231.2 1015.8V990.8M224.5 990.8H237.9M231.2 1015.8V1042.8M224.5 1042.8H237.9M244.1 1099.8V1058.8M237.4 1058.8H250.8M244.1 1099.8V1184.8M237.4 1184.8H250.8M257 1091.5V1054.5M250.3 1054.5H263.7M257 1091.5V1160.5M250.3 1160.5H263.7M269.91 1090.3V1056.3M263.21 1056.3H276.61M269.91 1090.3V1152.3M263.21 1152.3H276.61M282.81 1092.7V1058.7M276.11 1058.7H289.51M282.81 1092.7V1154.7M276.11 1154.7H289.51M295.71 1095V1060M289.01 1060H302.41M295.71 1095V1159M289.01 1159H302.41M308.61 1089V1052M301.91 1052H315.31M308.61 1089V1162M301.91 1162H315.31M321.52 1086.8V1051.8M314.82 1051.8H328.22M321.52 1086.8V1147.8M314.82 1147.8H328.22M334.42 1084.4V1052.4M327.72 1052.4H341.12M334.42 1084.4V1140.4M327.72 1140.4H341.12M347.32 1110.4V1075.4M340.62 1075.4H354.02M347.32 1110.4V1194.4M340.62 1194.4H354.02M360.22 1086.8V1053.8M353.52 1053.8H366.92M360.22 1086.8V1139.8M353.52 1139.8H366.92M373.12 1075V1044M366.42 1044H379.82M373.12 1075V1121M366.42 1121H379.82M386.03 1065.5V1037.5M379.33 1037.5H392.73M386.03 1065.5V1105.5M379.33 1105.5H392.73M398.93 1041.8V1013.8M392.23 1013.8H405.63M398.93 1041.8V1071.8M392.23 1071.8H405.63M411.83 1027.7V1003.7M405.13 1003.7H418.53M411.83 1027.7V1052.7M405.13 1052.7H418.53M424.73 1014V993M418.03 993H431.43M424.73 1014V1034M418.03 1034H431.43M437.64 1002V982M430.94 982H444.34M437.64 1002V1018M430.94 1018H444.34M450.54 987V972M443.84 972H457.24M450.54 987V1000M443.84 1000H457.24M463.44 974V962M456.74 962H470.14M463.44 974V984M456.74 984H470.14M476.34 960V949.5M469.64 949.5H483.04M476.34 960V969M469.64 969H483.04M489.24 946V937M482.54 937H495.94M489.24 946V954M482.54 954H495.94M502.15 934V926.5M495.45 926.5H508.85M502.15 934V941.25M495.45 941.25H508.85M515.05 926V920M508.35 920H521.75M515.05 926V932.5M508.35 932.5H521.75M527.95 920V914.5M521.25 914.5H534.65M527.95 920V925.75M521.25 925.75H534.65M540.85 914V909M534.15 909H547.55M540.85 914V919M534.15 919H547.55M553.76 911.33V906.38M547.06 906.38H560.46M553.76 911.33V916.29M547.06 916.29H560.46M566.66 908.67V903.76M559.96 903.76H573.36M566.66 908.67V913.57M559.96 913.57H573.36M579.56 906V901.14M572.86 901.14H586.26M579.56 906V910.86M572.86 910.86H586.26M592.46 904.67V899.86M585.76 899.86H599.16M592.46 904.67V909.48M585.76 909.48H599.16M605.36 903.33V898.57M598.66 898.57H612.06M605.36 903.33V908.1M598.66 908.1H612.06M618.27 902V897.29M611.57 897.29H624.97M618.27 902V906.71M611.57 906.71H624.97M631.17 901.17V896.5M624.47 896.5H637.87M631.17 901.17V905.83M624.47 905.83H637.87M644.07 900.33V895.71M637.37 895.71H650.77M644.07 900.33V904.95M637.37 904.95H650.77M656.97 899.5V894.93M650.27 894.93H663.67M656.97 899.5V904.07M650.27 904.07H663.67M669.88 898.83V894.31M663.18 894.31H676.58M669.88 898.83V903.36M663.18 903.36H676.58M682.78 898.17V893.69M676.08 893.69H689.48M682.78 898.17V902.64M676.08 902.64H689.48M695.68 897.5V893.07M688.98 893.07H702.38M695.68 897.5V901.93M688.98 901.93H702.38M708.58 897.45V893.07M701.88 893.07H715.28M708.58 897.45V901.83M701.88 901.83H715.28M721.48 897.4V893.07M714.78 893.07H728.18M721.48 897.4V901.73M714.78 901.73H728.18M734.39 897.35V893.06M727.69 893.06H741.09M734.39 897.35V901.64M727.69 901.64H741.09M747.29 897.3V893.06M740.59 893.06H753.99M747.29 897.3V901.54M740.59 901.54H753.99M760.19 898.15V893.96M753.49 893.96H766.89M760.19 898.15V902.34M753.49 902.34H766.89M773.09 899V894.86M766.39 894.86H779.79M773.09 899V903.14M766.39 903.14H779.79M786 901.2V897.1M779.3 897.1H792.7M786 901.2V905.3M779.3 905.3H792.7M798.9 903.4V899.35M792.2 899.35H805.6M798.9 903.4V907.45M792.2 907.45H805.6M811.8 905.6V901.6M805.1 901.6H818.5M811.8 905.6V909.6M805.1 909.6H818.5"/>
<polyline stroke="#21a07b" stroke-width="2.6" points="231.2,1015.8 244.1,1099.8 257,1091.5 269.91,1090.3 282.81,1092.7 295.71,1095 308.61,1089 321.52,1086.8 334.42,1084.4 347.32,1110.4 360.22,1086.8 373.12,1075 386.03,1065.5 398.93,1041.8 411.83,1027.7 424.73,1014 437.64,1002 450.54,987 463.44,974 476.34,960 489.24,946 502.15,934 515.05,926 527.95,920 540.85,914 553.76,911.33 566.66,908.67 579.56,906 592.46,904.67 605.36,903.33 618.27,902 631.17,901.17 644.07,900.33 656.97,899.5 669.88,898.83 682.78,898.17 695.68,897.5 708.58,897.45 721.48,897.4 734.39,897.35 747.29,897.3 760.19,898.15 773.09,899 786,901.2 798.9,903.4 811.8,905.6"/>
</g>
<g font-family="'Liberation Sans', Arial, Helvetica, sans-serif" font-size="44" fill="#000">
<text x="192.7" y="803.3" text-anchor="end">1</text>
<text x="192.7" y="996.93" text-anchor="end">0<tspan dx="-2.5">.</tspan><tspan dx="-2.5">1</tspan></text>
<text x="192.7" y="1190.57" text-anchor="end">0<tspan dx="-2.5">.</tspan><tspan dx="-2.5">01</tspan></text>
<text x="192.7" y="1384.2" text-anchor="end">0<tspan dx="-2.5">.</tspan><tspan dx="-2.5">001</tspan></text>
<text x="231.2" y="1442.9" text-anchor="middle">0</text>
<text x="424.73" y="1442.9" text-anchor="middle">5</text>
<text x="618.27" y="1442.9" text-anchor="middle">10</text>
<text x="811.8" y="1442.9" text-anchor="middle">15</text>
</g>
<text font-family="'Liberation Sans', Arial, Helvetica, sans-serif" font-size="47.5" x="521.5" y="1513.9" text-anchor="middle">Time (h)</text>
<text font-family="'Liberation Sans', Arial, Helvetica, sans-serif" font-size="47" transform="translate(44.7 1079.95) rotate(-90)" text-anchor="middle">OD<tspan font-size="35" dy="16">600</tspan><tspan dy="-16"> (a.u.)</tspan></text>
<text font-family="'Liberation Sans', Arial, Helvetica, sans-serif" font-size="48" font-weight="bold" x="131.3" y="784.5">b.</text>
<g font-family="'Liberation Sans', Arial, Helvetica, sans-serif" font-size="39" font-weight="bold" text-anchor="end">
<text x="761" y="1151.1" fill="#000000">pOR-<tspan font-style="italic">mtrC</tspan></text>
<text x="761" y="1195.5" fill="#21a07b">-/-</text>
<text x="761" y="1241.2" fill="#2e7a8f">+/-</text>
<text x="761" y="1286.9" fill="#494c91">-/+</text>
<text x="761" y="1332.6" fill="#440154">+/+</text>
</g>
<path fill="none" stroke="#000" stroke-width="5.4" stroke-linecap="square" d="M1220 788.9H1801V1369.7H1220ZM1220 924.22H1209.2M1220 890.13H1209.2M1220 865.94H1209.2M1220 847.18H1209.2M1220 831.85H1209.2M1220 818.89H1209.2M1220 807.66H1209.2M1220 797.76H1209.2M1220 1117.82H1209.2M1220 1083.73H1209.2M1220 1059.54H1209.2M1220 1040.78H1209.2M1220 1025.45H1209.2M1220 1012.49H1209.2M1220 1001.26H1209.2M1220 991.36H1209.2M1220 1311.42H1209.2M1220 1277.33H1209.2M1220 1253.14H1209.2M1220 1234.38H1209.2M1220 1219.05H1209.2M1220 1206.09H1209.2M1220 1194.86H1209.2M1220 1184.96H1209.2M1220 788.9H1198.4M1220 982.5H1198.4M1220 1176.1H1198.4M1220 1369.7H1198.4M1220 1369.7V1391.3M1413.67 1369.7V1391.3M1607.33 1369.7V1391.3M1801 1369.7V1391.3"/>
<clipPath id="clipc"><rect x="1180" y="688.9" width="661" height="680.8"/></clipPath>
<g fill="none" stroke-linecap="butt" stroke-linejoin="round" clip-path="url(#clipc)">
<path stroke="#440154" stroke-width="2.6" d="M1220 1010V1000M1213.3 1000H1226.7M1220 1010V1020M1213.3 1020H1226.7M1232.91 1299.8V1189.8M1226.21 1189.8H1239.61M1245.82 1233.3V1198.3M1239.12 1198.3H1252.52M1245.82 1233.3V1253.3M1239.12 1253.3H1252.52M1258.73 1223.5V1193.5M1252.03 1193.5H1265.43M1258.73 1223.5V1243.5M1252.03 1243.5H1265.43M1271.64 1162.3V1137.3M1264.94 1137.3H1278.34M1271.64 1162.3V1177.3M1264.94 1177.3H1278.34M1284.56 1152V1132M1277.86 1132H1291.26M1284.56 1152V1167M1277.86 1167H1291.26M1297.47 1148V1130M1290.77 1130H1304.17M1297.47 1148V1163M1290.77 1163H1304.17M1310.38 1130V1114M1303.68 1114H1317.08M1310.38 1130V1145M1303.68 1145H1317.08M1323.29 1127V1112M1316.59 1112H1329.99M1323.29 1127V1142M1316.59 1142H1329.99M1336.2 1124.6V1110.1M1329.5 1110.1H1342.9M1336.2 1124.6V1138.1M1329.5 1138.1H1342.9M1349.11 1122.2V1108.2M1342.41 1108.2H1355.81M1349.11 1122.2V1134.2M1342.41 1134.2H1355.81M1362.02 1105V1092M1355.32 1092H1368.72M1362.02 1105V1117M1355.32 1117H1368.72M1374.93 1085V1073M1368.23 1073H1381.63M1374.93 1085V1097M1368.23 1097H1381.63M1387.84 1059.5V1047.5M1381.14 1047.5H1394.54M1387.84 1059.5V1071.5M1381.14 1071.5H1394.54M1400.76 1045V1033M1394.06 1033H1407.46M1400.76 1045V1057M1394.06 1057H1407.46M1413.67 1017.8V1006.8M1406.97 1006.8H1420.37M1413.67 1017.8V1030.3M1406.97 1030.3H1420.37M1426.58 1002V992M1419.88 992H1433.28M1426.58 1002V1015M1419.88 1015H1433.28M1439.49 985.3V977.3M1432.79 977.3H1446.19M1439.49 985.3V1001.8M1432.79 1001.8H1446.19M1452.4 969.7V961.7M1445.7 961.7H1459.1M1452.4 969.7V989.7M1445.7 989.7H1459.1M1465.31 952.8V940.8M1458.61 940.8H1472.01M1465.31 952.8V972.8M1458.61 972.8H1472.01M1478.22 937.2V925.2M1471.52 925.2H1484.92M1478.22 937.2V957.2M1471.52 957.2H1484.92M1491.13 917.7V901.7M1484.43 901.7H1497.83M1491.13 917.7V936.7M1484.43 936.7H1497.83M1504.04 908.6V892.6M1497.34 892.6H1510.74M1504.04 908.6V926.6M1497.34 926.6H1510.74M1516.96 907.3V890.3M1510.26 890.3H1523.66M1516.96 907.3V924.8M1510.26 924.8H1523.66M1529.87 904.7V887.7M1523.17 887.7H1536.57M1529.87 904.7V921.7M1523.17 921.7H1536.57M1542.78 903.4V887.07M1536.08 887.07H1549.48M1542.78 903.4V919.9M1536.08 919.9H1549.48M1555.69 902V886.33M1548.99 886.33H1562.39M1555.69 902V918M1548.99 918H1562.39M1568.6 900V885M1561.9 885H1575.3M1568.6 900V915.5M1561.9 915.5H1575.3M1581.51 898V884M1574.81 884H1588.21M1581.51 898V913M1574.81 913H1588.21M1594.42 896V883M1587.72 883H1601.12M1594.42 896V910.5M1587.72 910.5H1601.12M1607.33 894V882M1600.63 882H1614.03M1607.33 894V908M1600.63 908H1614.03M1620.24 891.83V878.83M1613.54 878.83H1626.94M1620.24 891.83V905.7M1613.54 905.7H1626.94M1633.16 889.67V875.67M1626.46 875.67H1639.86M1633.16 889.67V903.4M1626.46 903.4H1639.86M1646.07 887.5V872.5M1639.37 872.5H1652.77M1646.07 887.5V901.1M1639.37 901.1H1652.77M1658.98 887.13V872.47M1652.28 872.47H1665.68M1658.98 887.13V900.6M1652.28 900.6H1665.68M1671.89 886.77V872.43M1665.19 872.43H1678.59M1671.89 886.77V900.1M1665.19 900.1H1678.59M1684.8 886.4V872.4M1678.1 872.4H1691.5M1684.8 886.4V899.6M1678.1 899.6H1691.5M1697.71 888.6V875.35M1691.01 875.35H1704.41M1697.71 888.6V901.67M1691.01 901.67H1704.41M1710.62 886V873.5M1703.92 873.5H1717.32M1710.62 886V898.93M1703.92 898.93H1717.32M1723.53 885.1V873.35M1716.83 873.35H1730.23M1723.53 885.1V897.9M1716.83 897.9H1730.23M1736.44 884.2V873.2M1729.74 873.2H1743.14M1736.44 884.2V896.87M1729.74 896.87H1743.14M1749.36 885.85V874.51M1742.66 874.51H1756.06M1749.36 885.85V898.38M1742.66 898.38H1756.06M1762.27 887.5V875.82M1755.57 875.82H1768.97M1762.27 887.5V899.9M1755.57 899.9H1768.97M1775.18 888.23V876.21M1768.48 876.21H1781.88M1775.18 888.23V900.5M1768.48 900.5H1781.88M1788.09 888.97V876.61M1781.39 876.61H1794.79M1788.09 888.97V901.1M1781.39 901.1H1794.79M1801 889.7V877M1794.3 877H1807.7M1801 889.7V901.7M1794.3 901.7H1807.7"/>
<polyline stroke="#440154" stroke-width="2.6" points="1220,1010 1232.91,1299.8 1245.82,1233.3 1258.73,1223.5 1271.64,1162.3 1284.56,1152 1297.47,1148 1310.38,1130 1323.29,1127 1336.2,1124.6 1349.11,1122.2 1362.02,1105 1374.93,1085 1387.84,1059.5 1400.76,1045 1413.67,1017.8 1426.58,1002 1439.49,985.3 1452.4,969.7 1465.31,952.8 1478.22,937.2 1491.13,917.7 1504.04,908.6 1516.96,907.3 1529.87,904.7 1542.78,903.4 1555.69,902 1568.6,900 1581.51,898 1594.42,896 1607.33,894 1620.24,891.83 1633.16,889.67 1646.07,887.5 1658.98,887.13 1671.89,886.77 1684.8,886.4 1697.71,888.6 1710.62,886 1723.53,885.1 1736.44,884.2 1749.36,885.85 1762.27,887.5 1775.18,888.23 1788.09,888.97 1801,889.7"/>
<path stroke="#494c91" stroke-width="2.6" d="M1220 1010V1000M1213.3 1000H1226.7M1220 1010V1020M1213.3 1020H1226.7M1232.91 1222.7V1192.7M1226.21 1192.7H1239.61M1232.91 1222.7V1272.7M1226.21 1272.7H1239.61M1245.82 1204.6V1174.6M1239.12 1174.6H1252.52M1245.82 1204.6V1273.3M1239.12 1273.3H1252.52M1258.73 1188V1168M1252.03 1168H1265.43M1258.73 1188V1256.7M1252.03 1256.7H1265.43M1271.64 1162.3V1147.3M1264.94 1147.3H1278.34M1271.64 1162.3V1182.7M1264.94 1182.7H1278.34M1284.56 1158V1143M1277.86 1143H1291.26M1284.56 1158V1183M1277.86 1183H1291.26M1297.47 1160V1145M1290.77 1145H1304.17M1297.47 1160V1220M1290.77 1220H1304.17M1310.38 1156V1141M1303.68 1141H1317.08M1310.38 1156V1184M1303.68 1184H1317.08M1323.29 1147V1133M1316.59 1133H1329.99M1323.29 1147V1174M1316.59 1174H1329.99M1336.2 1138V1126M1329.5 1126H1342.9M1336.2 1138V1158M1329.5 1158H1342.9M1349.11 1127V1115M1342.41 1115H1355.81M1349.11 1127V1142M1342.41 1142H1355.81M1362.02 1108V1097M1355.32 1097H1368.72M1362.02 1108V1120.5M1355.32 1120.5H1368.72M1374.93 1085V1075M1368.23 1075H1381.63M1374.93 1085V1095M1368.23 1095H1381.63M1387.84 1062V1053M1381.14 1053H1394.54M1387.84 1062V1071M1381.14 1071H1394.54M1400.76 1044V1036M1394.06 1036H1407.46M1400.76 1044V1052M1394.06 1052H1407.46M1413.67 1025V1018M1406.97 1018H1420.37M1413.67 1025V1032M1406.97 1032H1420.37M1426.58 1008V1002M1419.88 1002H1433.28M1426.58 1008V1014M1419.88 1014H1433.28M1439.49 994V988.12M1432.79 988.12H1446.19M1439.49 994V999.88M1432.79 999.88H1446.19M1452.4 982V976.25M1445.7 976.25H1459.1M1452.4 982V987.75M1445.7 987.75H1459.1M1465.31 966V960.38M1458.61 960.38H1472.01M1465.31 966V971.62M1458.61 971.62H1472.01M1478.22 955V949.5M1471.52 949.5H1484.92M1478.22 955V960.5M1471.52 960.5H1484.92M1491.13 946V940.62M1484.43 940.62H1497.83M1491.13 946V951.38M1484.43 951.38H1497.83M1504.04 931V925.75M1497.34 925.75H1510.74M1504.04 931V936.25M1497.34 936.25H1510.74M1516.96 928.5V923.38M1510.26 923.38H1523.66M1516.96 928.5V933.62M1510.26 933.62H1523.66M1529.87 925V920M1523.17 920H1536.57M1529.87 925V930M1523.17 930H1536.57M1542.78 921.6V916.65M1536.08 916.65H1549.48M1542.78 921.6V926.55M1536.08 926.55H1549.48M1555.69 918V913.1M1548.99 913.1H1562.39M1555.69 918V922.9M1548.99 922.9H1562.39M1568.6 915.5V910.64M1561.9 910.64H1575.3M1568.6 915.5V920.36M1561.9 920.36H1575.3M1581.51 913.67V908.86M1574.81 908.86H1588.21M1581.51 913.67V918.48M1574.81 918.48H1588.21M1594.42 911.83V907.07M1587.72 907.07H1601.12M1594.42 911.83V916.6M1587.72 916.6H1601.12M1607.33 910V905.29M1600.63 905.29H1614.03M1607.33 910V914.71M1600.63 914.71H1614.03M1620.24 908.33V903.67M1613.54 903.67H1626.94M1620.24 908.33V913M1613.54 913H1626.94M1633.16 906.67V902.05M1626.46 902.05H1639.86M1633.16 906.67V911.29M1626.46 911.29H1639.86M1646.07 905V900.43M1639.37 900.43H1652.77M1646.07 905V909.57M1639.37 909.57H1652.77M1658.98 903.83V899.31M1652.28 899.31H1665.68M1658.98 903.83V908.36M1652.28 908.36H1665.68M1671.89 902.67V898.19M1665.19 898.19H1678.59M1671.89 902.67V907.14M1665.19 907.14H1678.59M1684.8 901.5V897.07M1678.1 897.07H1691.5M1684.8 901.5V905.93M1678.1 905.93H1691.5M1697.71 900.88V896.49M1691.01 896.49H1704.41M1697.71 900.88V905.26M1691.01 905.26H1704.41M1710.62 900.25V895.92M1703.92 895.92H1717.32M1710.62 900.25V904.58M1703.92 904.58H1717.32M1723.53 899.62V895.34M1716.83 895.34H1730.23M1723.53 899.62V903.91M1716.83 903.91H1730.23M1736.44 899V894.76M1729.74 894.76H1743.14M1736.44 899V903.24M1729.74 903.24H1743.14M1749.36 900.5V896.31M1742.66 896.31H1756.06M1749.36 900.5V904.69M1742.66 904.69H1756.06M1762.27 902V897.86M1755.57 897.86H1768.97M1762.27 902V906.14M1755.57 906.14H1768.97M1775.18 904V899.9M1768.48 899.9H1781.88M1775.18 904V908.1M1768.48 908.1H1781.88M1788.09 906V901.95M1781.39 901.95H1794.79M1788.09 906V910.05M1781.39 910.05H1794.79M1801 908V904M1794.3 904H1807.7M1801 908V912M1794.3 912H1807.7"/>
<polyline stroke="#494c91" stroke-width="2.6" points="1220,1010 1232.91,1222.7 1245.82,1204.6 1258.73,1188 1271.64,1162.3 1284.56,1158 1297.47,1160 1310.38,1156 1323.29,1147 1336.2,1138 1349.11,1127 1362.02,1108 1374.93,1085 1387.84,1062 1400.76,1044 1413.67,1025 1426.58,1008 1439.49,994 1452.4,982 1465.31,966 1478.22,955 1491.13,946 1504.04,931 1516.96,928.5 1529.87,925 1542.78,921.6 1555.69,918 1568.6,915.5 1581.51,913.67 1594.42,911.83 1607.33,910 1620.24,908.33 1633.16,906.67 1646.07,905 1658.98,903.83 1671.89,902.67 1684.8,901.5 1697.71,900.88 1710.62,900.25 1723.53,899.62 1736.44,899 1749.36,900.5 1762.27,902 1775.18,904 1788.09,906 1801,908"/>
<path stroke="#2e7a8f" stroke-width="2.6" d="M1220 1008.7V998.7M1213.3 998.7H1226.7M1220 1008.7V1018.7M1213.3 1018.7H1226.7M1232.91 1137.3V1120.3M1226.21 1120.3H1239.61M1232.91 1137.3V1160.3M1226.21 1160.3H1239.61M1245.82 1130.5V1112.5M1239.12 1112.5H1252.52M1245.82 1130.5V1145.5M1239.12 1145.5H1252.52M1258.73 1141V1121M1252.03 1121H1265.43M1258.73 1141V1156M1252.03 1156H1265.43M1271.64 1130.5V1116.5M1264.94 1116.5H1278.34M1271.64 1130.5V1145.5M1264.94 1145.5H1278.34M1284.56 1129.8V1115.8M1277.86 1115.8H1291.26M1284.56 1129.8V1144.8M1277.86 1144.8H1291.26M1297.47 1120V1108M1290.77 1108H1304.17M1297.47 1120V1135M1290.77 1135H1304.17M1310.38 1126V1110M1303.68 1110H1317.08M1310.38 1126V1141M1303.68 1141H1317.08M1323.29 1132V1114M1316.59 1114H1329.99M1323.29 1132V1147M1316.59 1147H1329.99M1336.2 1121.5V1102.5M1329.5 1102.5H1342.9M1336.2 1121.5V1135.5M1329.5 1135.5H1342.9M1349.11 1120V1102M1342.41 1102H1355.81M1349.11 1120V1133M1342.41 1133H1355.81M1362.02 1100V1086M1355.32 1086H1368.72M1362.02 1100V1112M1355.32 1112H1368.72M1374.93 1075V1055M1368.23 1055H1381.63M1374.93 1075V1085M1368.23 1085H1381.63M1387.84 1055V1035M1381.14 1035H1394.54M1387.84 1055V1064M1381.14 1064H1394.54M1400.76 1038V1025M1394.06 1025H1407.46M1400.76 1038V1046M1394.06 1046H1407.46M1413.67 1021V1015M1406.97 1015H1420.37M1413.67 1021V1028M1406.97 1028H1420.37M1426.58 1005V999M1419.88 999H1433.28M1426.58 1005V1011M1419.88 1011H1433.28M1439.49 991V985M1432.79 985H1446.19M1439.49 991V996.88M1432.79 996.88H1446.19M1452.4 978V972M1445.7 972H1459.1M1452.4 978V983.75M1445.7 983.75H1459.1M1465.31 962V956.17M1458.61 956.17H1472.01M1465.31 962V967.62M1458.61 967.62H1472.01M1478.22 952V946.33M1471.52 946.33H1484.92M1478.22 952V957.5M1471.52 957.5H1484.92M1491.13 945V939.5M1484.43 939.5H1497.83M1491.13 945V950.38M1484.43 950.38H1497.83M1504.04 930V924.67M1497.34 924.67H1510.74M1504.04 930V935.25M1497.34 935.25H1510.74M1516.96 927.5V922.33M1510.26 922.33H1523.66M1516.96 927.5V932.62M1510.26 932.62H1523.66M1529.87 924V919M1523.17 919H1536.57M1529.87 924V929M1523.17 929H1536.57M1542.78 920.6V915.65M1536.08 915.65H1549.48M1542.78 920.6V925.55M1536.08 925.55H1549.48M1555.69 917V912.1M1548.99 912.1H1562.39M1555.69 917V921.9M1548.99 921.9H1562.39M1568.6 914.5V909.64M1561.9 909.64H1575.3M1568.6 914.5V919.36M1561.9 919.36H1575.3M1581.51 912.67V907.86M1574.81 907.86H1588.21M1581.51 912.67V917.48M1574.81 917.48H1588.21M1594.42 910.83V906.07M1587.72 906.07H1601.12M1594.42 910.83V915.6M1587.72 915.6H1601.12M1607.33 909V904.29M1600.63 904.29H1614.03M1607.33 909V913.71M1600.63 913.71H1614.03M1620.24 907.33V902.67M1613.54 902.67H1626.94M1620.24 907.33V912M1613.54 912H1626.94M1633.16 905.67V901.05M1626.46 901.05H1639.86M1633.16 905.67V910.29M1626.46 910.29H1639.86M1646.07 904V899.43M1639.37 899.43H1652.77M1646.07 904V908.57M1639.37 908.57H1652.77M1658.98 902.83V898.31M1652.28 898.31H1665.68M1658.98 902.83V907.36M1652.28 907.36H1665.68M1671.89 901.67V897.19M1665.19 897.19H1678.59M1671.89 901.67V906.14M1665.19 906.14H1678.59M1684.8 900.5V896.07M1678.1 896.07H1691.5M1684.8 900.5V904.93M1678.1 904.93H1691.5M1697.71 899.88V895.49M1691.01 895.49H1704.41M1697.71 899.88V904.26M1691.01 904.26H1704.41M1710.62 899.25V894.92M1703.92 894.92H1717.32M1710.62 899.25V903.58M1703.92 903.58H1717.32M1723.53 898.62V894.34M1716.83 894.34H1730.23M1723.53 898.62V902.91M1716.83 902.91H1730.23M1736.44 898V893.76M1729.74 893.76H1743.14M1736.44 898V902.24M1729.74 902.24H1743.14M1749.36 899.5V895.31M1742.66 895.31H1756.06M1749.36 899.5V903.69M1742.66 903.69H1756.06M1762.27 901V896.86M1755.57 896.86H1768.97M1762.27 901V905.14M1755.57 905.14H1768.97M1775.18 903V898.9M1768.48 898.9H1781.88M1775.18 903V907.1M1768.48 907.1H1781.88M1788.09 905V900.95M1781.39 900.95H1794.79M1788.09 905V909.05M1781.39 909.05H1794.79M1801 907V903M1794.3 903H1807.7M1801 907V911M1794.3 911H1807.7"/>
<polyline stroke="#2e7a8f" stroke-width="2.6" points="1220,1008.7 1232.91,1137.3 1245.82,1130.5 1258.73,1141 1271.64,1130.5 1284.56,1129.8 1297.47,1120 1310.38,1126 1323.29,1132 1336.2,1121.5 1349.11,1120 1362.02,1100 1374.93,1075 1387.84,1055 1400.76,1038 1413.67,1021 1426.58,1005 1439.49,991 1452.4,978 1465.31,962 1478.22,952 1491.13,945 1504.04,930 1516.96,927.5 1529.87,924 1542.78,920.6 1555.69,917 1568.6,914.5 1581.51,912.67 1594.42,910.83 1607.33,909 1620.24,907.33 1633.16,905.67 1646.07,904 1658.98,902.83 1671.89,901.67 1684.8,900.5 1697.71,899.88 1710.62,899.25 1723.53,898.62 1736.44,898 1749.36,899.5 1762.27,901 1775.18,903 1788.09,905 1801,907"/>
<path stroke="#21a07b" stroke-width="2.6" d="M1220 1025V1013M1213.3 1013H1226.7M1220 1025V1037M1213.3 1037H1226.7M1232.91 1201.5V1160.5M1226.21 1160.5H1239.61M1232.91 1201.5V1304.5M1226.21 1304.5H1239.61M1245.82 1138V1108M1239.12 1108H1252.52M1245.82 1138V1248M1239.12 1248H1252.52M1258.73 1141V1099.5M1252.03 1099.5H1265.43M1258.73 1141V1223M1252.03 1223H1265.43M1271.64 1153V1133M1264.94 1133H1278.34M1271.64 1153V1168M1264.94 1168H1278.34M1284.56 1147V1127M1277.86 1127H1291.26M1284.56 1147V1167M1277.86 1167H1291.26M1297.47 1185V1155M1290.77 1155H1304.17M1297.47 1185V1213M1290.77 1213H1304.17M1310.38 1165V1145M1303.68 1145H1317.08M1310.38 1165V1185M1303.68 1185H1317.08M1323.29 1153V1133M1316.59 1133H1329.99M1323.29 1153V1173M1316.59 1173H1329.99M1336.2 1141V1121M1329.5 1121H1342.9M1336.2 1141V1161M1329.5 1161H1342.9M1349.11 1160.7V1140.7M1342.41 1140.7H1355.81M1349.11 1160.7V1186.4M1342.41 1186.4H1355.81M1362.02 1128V1110M1355.32 1110H1368.72M1362.02 1128V1144.5M1355.32 1144.5H1368.72M1374.93 1117.5V1104.5M1368.23 1104.5H1381.63M1374.93 1117.5V1129.5M1368.23 1129.5H1381.63M1387.84 1090V1079M1381.14 1079H1394.54M1387.84 1090V1110M1381.14 1110H1394.54M1400.76 1069V1059M1394.06 1059H1407.46M1400.76 1069V1079M1394.06 1079H1407.46M1413.67 1043.8V1035.8M1406.97 1035.8H1420.37M1413.67 1043.8V1049.8M1406.97 1049.8H1420.37M1426.58 1023V1016M1419.88 1016H1433.28M1426.58 1023V1029M1419.88 1029H1433.28M1439.49 1005V998.5M1432.79 998.5H1446.19M1439.49 1005V1011M1432.79 1011H1446.19M1452.4 988V982M1445.7 982H1459.1M1452.4 988V994M1445.7 994H1459.1M1465.31 970V964.17M1458.61 964.17H1472.01M1465.31 970V975.83M1458.61 975.83H1472.01M1478.22 958V952.33M1471.52 952.33H1484.92M1478.22 958V963.67M1471.52 963.67H1484.92M1491.13 948V942.5M1484.43 942.5H1497.83M1491.13 948V953.5M1484.43 953.5H1497.83M1504.04 933V927.67M1497.34 927.67H1510.74M1504.04 933V938.33M1497.34 938.33H1510.74M1516.96 930.5V925.33M1510.26 925.33H1523.66M1516.96 930.5V935.67M1510.26 935.67H1523.66M1529.87 927V922M1523.17 922H1536.57M1529.87 927V932M1523.17 932H1536.57M1542.78 923.6V918.65M1536.08 918.65H1549.48M1542.78 923.6V928.55M1536.08 928.55H1549.48M1555.69 920V915.1M1548.99 915.1H1562.39M1555.69 920V924.9M1548.99 924.9H1562.39M1568.6 917.5V912.64M1561.9 912.64H1575.3M1568.6 917.5V922.36M1561.9 922.36H1575.3M1581.51 915.67V910.86M1574.81 910.86H1588.21M1581.51 915.67V920.48M1574.81 920.48H1588.21M1594.42 913.83V909.07M1587.72 909.07H1601.12M1594.42 913.83V918.6M1587.72 918.6H1601.12M1607.33 912V907.29M1600.63 907.29H1614.03M1607.33 912V916.71M1600.63 916.71H1614.03M1620.24 910.33V905.67M1613.54 905.67H1626.94M1620.24 910.33V915M1613.54 915H1626.94M1633.16 908.67V904.05M1626.46 904.05H1639.86M1633.16 908.67V913.29M1626.46 913.29H1639.86M1646.07 907V902.43M1639.37 902.43H1652.77M1646.07 907V911.57M1639.37 911.57H1652.77M1658.98 905.83V901.31M1652.28 901.31H1665.68M1658.98 905.83V910.36M1652.28 910.36H1665.68M1671.89 904.67V900.19M1665.19 900.19H1678.59M1671.89 904.67V909.14M1665.19 909.14H1678.59M1684.8 903.5V899.07M1678.1 899.07H1691.5M1684.8 903.5V907.93M1678.1 907.93H1691.5M1697.71 902.88V898.49M1691.01 898.49H1704.41M1697.71 902.88V907.26M1691.01 907.26H1704.41M1710.62 902.25V897.92M1703.92 897.92H1717.32M1710.62 902.25V906.58M1703.92 906.58H1717.32M1723.53 901.62V897.34M1716.83 897.34H1730.23M1723.53 901.62V905.91M1716.83 905.91H1730.23M1736.44 901V896.76M1729.74 896.76H1743.14M1736.44 901V905.24M1729.74 905.24H1743.14M1749.36 902.5V898.31M1742.66 898.31H1756.06M1749.36 902.5V906.69M1742.66 906.69H1756.06M1762.27 904V899.86M1755.57 899.86H1768.97M1762.27 904V908.14M1755.57 908.14H1768.97M1775.18 906V901.9M1768.48 901.9H1781.88M1775.18 906V910.1M1768.48 910.1H1781.88M1788.09 908V903.95M1781.39 903.95H1794.79M1788.09 908V912.05M1781.39 912.05H1794.79M1801 910V906M1794.3 906H1807.7M1801 910V914M1794.3 914H1807.7"/>
<polyline stroke="#21a07b" stroke-width="2.6" points="1220,1025 1232.91,1201.5 1245.82,1138 1258.73,1141 1271.64,1153 1284.56,1147 1297.47,1185 1310.38,1165 1323.29,1153 1336.2,1141 1349.11,1160.7 1362.02,1128 1374.93,1117.5 1387.84,1090 1400.76,1069 1413.67,1043.8 1426.58,1023 1439.49,1005 1452.4,988 1465.31,970 1478.22,958 1491.13,948 1504.04,933 1516.96,930.5 1529.87,927 1542.78,923.6 1555.69,920 1568.6,917.5 1581.51,915.67 1594.42,913.83 1607.33,912 1620.24,910.33 1633.16,908.67 1646.07,907 1658.98,905.83 1671.89,904.67 1684.8,903.5 1697.71,902.88 1710.62,902.25 1723.53,901.62 1736.44,901 1749.36,902.5 1762.27,904 1775.18,906 1788.09,908 1801,910"/>
</g>
<g font-family="'Liberation Sans', Arial, Helvetica, sans-serif" font-size="44" fill="#000">
<text x="1181.5" y="803.5" text-anchor="end">1</text>
<text x="1181.5" y="997.1" text-anchor="end">0<tspan dx="-2.5">.</tspan><tspan dx="-2.5">1</tspan></text>
<text x="1181.5" y="1190.7" text-anchor="end">0<tspan dx="-2.5">.</tspan><tspan dx="-2.5">01</tspan></text>
<text x="1181.5" y="1384.3" text-anchor="end">0<tspan dx="-2.5">.</tspan><tspan dx="-2.5">001</tspan></text>
<text x="1220" y="1443" text-anchor="middle">0</text>
<text x="1413.67" y="1443" text-anchor="middle">5</text>
<text x="1607.33" y="1443" text-anchor="middle">10</text>
<text x="1801" y="1443" text-anchor="middle">15</text>
</g>
<text font-family="'Liberation Sans', Arial, Helvetica, sans-serif" font-size="47.5" x="1510.5" y="1514" text-anchor="middle">Time (h)</text>
<text font-family="'Liberation Sans', Arial, Helvetica, sans-serif" font-size="47" transform="translate(1033.5 1080.1) rotate(-90)" text-anchor="middle">OD<tspan font-size="35" dy="16">600</tspan><tspan dy="-16"> (a.u.)</tspan></text>
<text font-family="'Liberation Sans', Arial, Helvetica, sans-serif" font-size="48" font-weight="bold" x="1112.4" y="784.9">c.</text>
<g font-family="'Liberation Sans', Arial, Helvetica, sans-serif" font-size="39" font-weight="bold" text-anchor="end">
<text x="1751" y="1146.9" fill="#000000">pNOR-<tspan font-style="italic">mtrC</tspan></text>
<text x="1751" y="1192" fill="#21a07b">-/-</text>
<text x="1751" y="1237.7" fill="#2e7a8f">+/-</text>
<text x="1751" y="1283.4" fill="#494c91">-/+</text>
<text x="1751" y="1329.1" fill="#440154">+/+</text>
</g>
<path fill="none" stroke="#000" stroke-width="5.4" stroke-linecap="square" d="M231.2 1618.3H812V2199.3H231.2ZM231.2 1753.67H220.4M231.2 1719.56H220.4M231.2 1695.37H220.4M231.2 1676.6H220.4M231.2 1661.26H220.4M231.2 1648.3H220.4M231.2 1637.07H220.4M231.2 1627.16H220.4M231.2 1947.33H220.4M231.2 1913.23H220.4M231.2 1889.03H220.4M231.2 1870.27H220.4M231.2 1854.93H220.4M231.2 1841.97H220.4M231.2 1830.73H220.4M231.2 1820.83H220.4M231.2 2141H220.4M231.2 2106.9H220.4M231.2 2082.7H220.4M231.2 2063.93H220.4M231.2 2048.6H220.4M231.2 2035.63H220.4M231.2 2024.4H220.4M231.2 2014.5H220.4M231.2 1618.3H209.6M231.2 1811.97H209.6M231.2 2005.63H209.6M231.2 2199.3H209.6M231.2 2199.3V2220.9M424.8 2199.3V2220.9M618.4 2199.3V2220.9M812 2199.3V2220.9"/>
<clipPath id="clipd"><rect x="191.2" y="1518.3" width="660.8" height="681"/></clipPath>
<g fill="none" stroke-linecap="butt" stroke-linejoin="round" clip-path="url(#clipd)">
<path stroke="#440154" stroke-width="2.6" d="M231.2 1845V1834M224.5 1834H237.9M231.2 1845V1856M224.5 1856H237.9M244.11 2027.3V2017.3M237.41 2017.3H250.81M244.11 2027.3V2072.3M237.41 2072.3H250.81M257.01 1996.6V1986.6M250.31 1986.6H263.71M257.01 1996.6V2016.6M250.31 2016.6H263.71M269.92 1913.9V1861.9M263.22 1861.9H276.62M269.92 1913.9V1993.9M263.22 1993.9H276.62M282.83 1984.8V1964.8M276.13 1964.8H289.53M282.83 1984.8V2004.8M276.13 2004.8H289.53M295.73 2015.5V1995.5M289.03 1995.5H302.43M295.73 2015.5V2035.5M289.03 2035.5H302.43M308.64 1935V1895M301.94 1895H315.34M308.64 1935V2038M301.94 2038H315.34M321.55 1909V1872.5M314.85 1872.5H328.25M321.55 1909V1979M314.85 1979H328.25M334.45 1892.6V1851.2M327.75 1851.2H341.15M334.45 1892.6V1982.6M327.75 1982.6H341.15M347.36 1880.8V1847.8M340.66 1847.8H354.06M347.36 1880.8V1980.8M340.66 1980.8H354.06M360.27 1887.8V1845.3M353.57 1845.3H366.97M360.27 1887.8V1977.8M353.57 1977.8H366.97M373.17 1883V1843M366.47 1843H379.87M373.17 1883V1973M366.47 1973H379.87M386.08 1871.3V1835.8M379.38 1835.8H392.78M386.08 1871.3V1941.3M379.38 1941.3H392.78M398.99 1853V1828.7M392.29 1828.7H405.69M398.99 1853V1901M392.29 1901H405.69M411.89 1836V1818M405.19 1818H418.59M411.89 1836V1870M405.19 1870H418.59M424.8 1822V1802.4M418.1 1802.4H431.5M424.8 1822V1849M418.1 1849H431.5M437.71 1813V1792.5M431.01 1792.5H444.41M437.71 1813V1838M431.01 1838H444.41M450.61 1804.5V1789M443.91 1789H457.31M450.61 1804.5V1822.5M443.91 1822.5H457.31M463.52 1793.2V1779.7M456.82 1779.7H470.22M463.52 1793.2V1808.2M456.82 1808.2H470.22M476.43 1781.8V1771.2M469.73 1771.2H483.13M476.43 1781.8V1795.3M469.73 1795.3H483.13M489.33 1773.3V1761.3M482.63 1761.3H496.03M489.33 1773.3V1785.3M482.63 1785.3H496.03M502.24 1766.2V1757.7M495.54 1757.7H508.94M502.24 1766.2V1777.2M495.54 1777.2H508.94M515.15 1753.5V1749.2M508.45 1749.2H521.85M515.15 1753.5V1763.5M508.45 1763.5H521.85M528.05 1747.8V1739.3M521.35 1739.3H534.75M528.05 1747.8V1756.8M521.35 1756.8H534.75M540.96 1744V1734.3M534.26 1734.3H547.66M540.96 1744V1752M534.26 1752H547.66M553.87 1742.17V1732.7M547.17 1732.7H560.57M553.87 1742.17V1750.07M547.17 1750.07H560.57M566.77 1740.33V1731.1M560.07 1731.1H573.47M566.77 1740.33V1748.14M560.07 1748.14H573.47M579.68 1738.5V1729.5M572.98 1729.5H586.38M579.68 1738.5V1746.21M572.98 1746.21H586.38M592.59 1736.67V1727.33M585.89 1727.33H599.29M592.59 1736.67V1744.29M585.89 1744.29H599.29M605.49 1734.83V1725.17M598.79 1725.17H612.19M605.49 1734.83V1742.36M598.79 1742.36H612.19M618.4 1733V1723M611.7 1723H625.1M618.4 1733V1740.43M611.7 1740.43H625.1M631.31 1730.67V1720.73M624.61 1720.73H638.01M631.31 1730.67V1738M624.61 1738H638.01M644.21 1728.33V1718.47M637.51 1718.47H650.91M644.21 1728.33V1735.57M637.51 1735.57H650.91M657.12 1726V1716.2M650.42 1716.2H663.82M657.12 1726V1733.14M650.42 1733.14H663.82M670.03 1724.67V1714.93M663.33 1714.93H676.73M670.03 1724.67V1731.71M663.33 1731.71H676.73M682.93 1723.33V1713.67M676.23 1713.67H689.63M682.93 1723.33V1730.29M676.23 1730.29H689.63M695.84 1722V1712.4M689.14 1712.4H702.54M695.84 1722V1728.86M689.14 1728.86H702.54M708.75 1721.33V1711.8M702.05 1711.8H715.45M708.75 1721.33V1728.1M702.05 1728.1H715.45M721.65 1720.67V1711.2M714.95 1711.2H728.35M721.65 1720.67V1727.33M714.95 1727.33H728.35M734.56 1720V1710.6M727.86 1710.6H741.26M734.56 1720V1726.57M727.86 1726.57H741.26M747.47 1720.67V1711.33M740.77 1711.33H754.17M747.47 1720.67V1727.14M740.77 1727.14H754.17M760.37 1721.33V1712.07M753.67 1712.07H767.07M760.37 1721.33V1727.71M753.67 1727.71H767.07M773.28 1722V1712.8M766.58 1712.8H779.98M773.28 1722V1728.29M766.58 1728.29H779.98M786.19 1724V1714.87M779.49 1714.87H792.89M786.19 1724V1730.19M779.49 1730.19H792.89M799.09 1726V1716.93M792.39 1716.93H805.79M799.09 1726V1732.1M792.39 1732.1H805.79M812 1728V1719M805.3 1719H818.7M812 1728V1734M805.3 1734H818.7"/>
<polyline stroke="#440154" stroke-width="2.6" points="231.2,1845 244.11,2027.3 257.01,1996.6 269.92,1913.9 282.83,1984.8 295.73,2015.5 308.64,1935 321.55,1909 334.45,1892.6 347.36,1880.8 360.27,1887.8 373.17,1883 386.08,1871.3 398.99,1853 411.89,1836 424.8,1822 437.71,1813 450.61,1804.5 463.52,1793.2 476.43,1781.8 489.33,1773.3 502.24,1766.2 515.15,1753.5 528.05,1747.8 540.96,1744 553.87,1742.17 566.77,1740.33 579.68,1738.5 592.59,1736.67 605.49,1734.83 618.4,1733 631.31,1730.67 644.21,1728.33 657.12,1726 670.03,1724.67 682.93,1723.33 695.84,1722 708.75,1721.33 721.65,1720.67 734.56,1720 747.47,1720.67 760.37,1721.33 773.28,1722 786.19,1724 799.09,1726 812,1728"/>
<path stroke="#494c91" stroke-width="2.6" d="M231.2 2012V1909M224.5 1909H237.9M244.11 2013V2003M237.41 2003H250.81M244.11 2013V2033M237.41 2033H250.81M257.01 1994V1979M250.31 1979H263.71M257.01 1994V2014M250.31 2014H263.71M269.92 1987V1972M263.22 1972H276.62M269.92 1987V2007M263.22 2007H276.62M282.83 2020V2002M276.13 2002H289.53M282.83 2020V2042M276.13 2042H289.53M295.73 1999V1981M289.03 1981H302.43M295.73 1999V2021M289.03 2021H302.43M308.64 1989.5V1971.5M301.94 1971.5H315.34M308.64 1989.5V2009.5M301.94 2009.5H315.34M321.55 1980V1965M314.85 1965H328.25M321.55 1980V1998M314.85 1998H328.25M334.45 1977.7V1965.7M327.75 1965.7H341.15M334.45 1977.7V1992.7M327.75 1992.7H341.15M347.36 1966V1954M340.66 1954H354.06M347.36 1966V1980M340.66 1980H354.06M360.27 1961V1949M353.57 1949H366.97M360.27 1961V1973M353.57 1973H366.97M373.17 1947V1935M366.47 1935H379.87M373.17 1947V1959M366.47 1959H379.87M386.08 1928V1917M379.38 1917H392.78M386.08 1928V1939M379.38 1939H392.78M398.99 1899.7V1889.7M392.29 1889.7H405.69M398.99 1899.7V1909.7M392.29 1909.7H405.69M411.89 1873.7V1863.7M405.19 1863.7H418.59M411.89 1873.7V1883.7M405.19 1883.7H418.59M424.8 1852V1843M418.1 1843H431.5M424.8 1852V1861M418.1 1861H431.5M437.71 1833V1825M431.01 1825H444.41M437.71 1833V1841M431.01 1841H444.41M450.61 1818V1810.25M443.91 1810.25H457.31M450.61 1818V1825.75M443.91 1825.75H457.31M463.52 1804V1796.5M456.82 1796.5H470.22M463.52 1804V1811.5M456.82 1811.5H470.22M476.43 1791V1783.75M469.73 1783.75H483.13M476.43 1791V1798.25M469.73 1798.25H483.13M489.33 1780V1773M482.63 1773H496.03M489.33 1780V1787M482.63 1787H496.03M502.24 1767V1760.5M495.54 1760.5H508.94M502.24 1767V1773.5M495.54 1773.5H508.94M515.15 1758V1752M508.45 1752H521.85M515.15 1758V1764M508.45 1764H521.85M528.05 1752.5V1747M521.35 1747H534.75M528.05 1752.5V1758M521.35 1758H534.75M540.96 1748V1743M534.26 1743H547.66M540.96 1748V1753M534.26 1753H547.66M553.87 1746V1741.05M547.17 1741.05H560.57M553.87 1746V1750.95M547.17 1750.95H560.57M566.77 1743.5V1738.6M560.07 1738.6H573.47M566.77 1743.5V1748.4M560.07 1748.4H573.47M579.68 1741V1736.14M572.98 1736.14H586.38M579.68 1741V1745.86M572.98 1745.86H586.38M592.59 1738.67V1733.86M585.89 1733.86H599.29M592.59 1738.67V1743.48M585.89 1743.48H599.29M605.49 1736.33V1731.57M598.79 1731.57H612.19M605.49 1736.33V1741.1M598.79 1741.1H612.19M618.4 1734V1729.29M611.7 1729.29H625.1M618.4 1734V1738.71M611.7 1738.71H625.1M631.31 1732.33V1727.67M624.61 1727.67H638.01M631.31 1732.33V1737M624.61 1737H638.01M644.21 1730.67V1726.05M637.51 1726.05H650.91M644.21 1730.67V1735.29M637.51 1735.29H650.91M657.12 1729V1724.43M650.42 1724.43H663.82M657.12 1729V1733.57M650.42 1733.57H663.82M670.03 1727.33V1722.81M663.33 1722.81H676.73M670.03 1727.33V1731.86M663.33 1731.86H676.73M682.93 1725.67V1721.19M676.23 1721.19H689.63M682.93 1725.67V1730.14M676.23 1730.14H689.63M695.84 1724V1719.57M689.14 1719.57H702.54M695.84 1724V1728.43M689.14 1728.43H702.54M708.75 1723.5V1719.12M702.05 1719.12H715.45M708.75 1723.5V1727.88M702.05 1727.88H715.45M721.65 1723V1718.67M714.95 1718.67H728.35M721.65 1723V1727.33M714.95 1727.33H728.35M734.56 1722.5V1718.21M727.86 1718.21H741.26M734.56 1722.5V1726.79M727.86 1726.79H741.26M747.47 1723.67V1719.43M740.77 1719.43H754.17M747.47 1723.67V1727.9M740.77 1727.9H754.17M760.37 1724.83V1720.64M753.67 1720.64H767.07M760.37 1724.83V1729.02M753.67 1729.02H767.07M773.28 1726V1721.86M766.58 1721.86H779.98M773.28 1726V1730.14M766.58 1730.14H779.98M786.19 1728V1723.9M779.49 1723.9H792.89M786.19 1728V1732.1M779.49 1732.1H792.89M799.09 1730V1725.95M792.39 1725.95H805.79M799.09 1730V1734.05M792.39 1734.05H805.79M812 1732V1728M805.3 1728H818.7M812 1732V1736M805.3 1736H818.7"/>
<polyline stroke="#494c91" stroke-width="2.6" points="231.2,2012 244.11,2013 257.01,1994 269.92,1987 282.83,2020 295.73,1999 308.64,1989.5 321.55,1980 334.45,1977.7 347.36,1966 360.27,1961 373.17,1947 386.08,1928 398.99,1899.7 411.89,1873.7 424.8,1852 437.71,1833 450.61,1818 463.52,1804 476.43,1791 489.33,1780 502.24,1767 515.15,1758 528.05,1752.5 540.96,1748 553.87,1746 566.77,1743.5 579.68,1741 592.59,1738.67 605.49,1736.33 618.4,1734 631.31,1732.33 644.21,1730.67 657.12,1729 670.03,1727.33 682.93,1725.67 695.84,1724 708.75,1723.5 721.65,1723 734.56,1722.5 747.47,1723.67 760.37,1724.83 773.28,1726 786.19,1728 799.09,1730 812,1732"/>
<path stroke="#2e7a8f" stroke-width="2.6" d="M269.92 2048V2038M263.22 2038H276.62M269.92 2048V2062M263.22 2062H276.62M282.83 2059V2039M276.13 2039H289.53M282.83 2059V2089M276.13 2089H289.53M295.73 2021.5V2001.5M289.03 2001.5H302.43M295.73 2021.5V2046.5M289.03 2046.5H302.43M308.64 2051V2031M301.94 2031H315.34M308.64 2051V2078M301.94 2078H315.34M321.55 2030V2010M314.85 2010H328.25M321.55 2030V2055M314.85 2055H328.25M334.45 2024V2006M327.75 2006H341.15M334.45 2024V2046M327.75 2046H341.15M347.36 2006V1988M340.66 1988H354.06M347.36 2006V2026M340.66 2026H354.06M360.27 1999V1983M353.57 1983H366.97M360.27 1999V2019M353.57 2019H366.97M373.17 1980V1966M366.47 1966H379.87M373.17 1980V1998M366.47 1998H379.87M386.08 1956.4V1944.4M379.38 1944.4H392.78M386.08 1956.4V1971.4M379.38 1971.4H392.78M398.99 1925.7V1914.7M392.29 1914.7H405.69M398.99 1925.7V1939.7M392.29 1939.7H405.69M411.89 1897V1887M405.19 1887H418.59M411.89 1897V1909M405.19 1909H418.59M424.8 1866V1857M418.1 1857H431.5M424.8 1866V1876.5M418.1 1876.5H431.5M437.71 1845V1837M431.01 1837H444.41M437.71 1845V1854M431.01 1854H444.41M450.61 1829V1821.25M443.91 1821.25H457.31M450.61 1829V1837.5M443.91 1837.5H457.31M463.52 1815V1807.5M456.82 1807.5H470.22M463.52 1815V1823M456.82 1823H470.22M476.43 1801V1793.75M469.73 1793.75H483.13M476.43 1801V1808.5M469.73 1808.5H483.13M489.33 1788V1781M482.63 1781H496.03M489.33 1788V1795M482.63 1795H496.03M502.24 1771V1764.5M495.54 1764.5H508.94M502.24 1771V1777.5M495.54 1777.5H508.94M515.15 1762V1756M508.45 1756H521.85M515.15 1762V1768M508.45 1768H521.85M528.05 1756.5V1751M521.35 1751H534.75M528.05 1756.5V1762M521.35 1762H534.75M540.96 1752V1747M534.26 1747H547.66M540.96 1752V1757M534.26 1757H547.66M553.87 1750V1745.05M547.17 1745.05H560.57M553.87 1750V1754.95M547.17 1754.95H560.57M566.77 1748V1743.1M560.07 1743.1H573.47M566.77 1748V1752.9M560.07 1752.9H573.47M579.68 1745V1740.14M572.98 1740.14H586.38M579.68 1745V1749.86M572.98 1749.86H586.38M592.59 1742.3V1737.49M585.89 1737.49H599.29M592.59 1742.3V1747.11M585.89 1747.11H599.29M605.49 1740.15V1735.39M598.79 1735.39H612.19M605.49 1740.15V1744.91M598.79 1744.91H612.19M618.4 1738V1733.29M611.7 1733.29H625.1M618.4 1738V1742.71M611.7 1742.71H625.1M631.31 1736.33V1731.67M624.61 1731.67H638.01M631.31 1736.33V1741M624.61 1741H638.01M644.21 1734.67V1730.05M637.51 1730.05H650.91M644.21 1734.67V1739.29M637.51 1739.29H650.91M657.12 1733V1728.43M650.42 1728.43H663.82M657.12 1733V1737.57M650.42 1737.57H663.82M670.03 1731.33V1726.81M663.33 1726.81H676.73M670.03 1731.33V1735.86M663.33 1735.86H676.73M682.93 1729.67V1725.19M676.23 1725.19H689.63M682.93 1729.67V1734.14M676.23 1734.14H689.63M695.84 1728V1723.57M689.14 1723.57H702.54M695.84 1728V1732.43M689.14 1732.43H702.54M708.75 1727.5V1723.12M702.05 1723.12H715.45M708.75 1727.5V1731.88M702.05 1731.88H715.45M721.65 1727V1722.67M714.95 1722.67H728.35M721.65 1727V1731.33M714.95 1731.33H728.35M734.56 1726.5V1722.21M727.86 1722.21H741.26M734.56 1726.5V1730.79M727.86 1730.79H741.26M747.47 1727.67V1723.43M740.77 1723.43H754.17M747.47 1727.67V1731.9M740.77 1731.9H754.17M760.37 1728.83V1724.64M753.67 1724.64H767.07M760.37 1728.83V1733.02M753.67 1733.02H767.07M773.28 1730V1725.86M766.58 1725.86H779.98M773.28 1730V1734.14M766.58 1734.14H779.98M786.19 1732V1727.9M779.49 1727.9H792.89M786.19 1732V1736.1M779.49 1736.1H792.89M799.09 1734V1729.95M792.39 1729.95H805.79M799.09 1734V1738.05M792.39 1738.05H805.79M812 1736V1732M805.3 1732H818.7M812 1736V1740M805.3 1740H818.7"/>
<polyline stroke="#2e7a8f" stroke-width="2.6" points="231.2,2232 244.11,2226 257.01,2141 269.92,2048 282.83,2059 295.73,2021.5 308.64,2051 321.55,2030 334.45,2024 347.36,2006 360.27,1999 373.17,1980 386.08,1956.4 398.99,1925.7 411.89,1897 424.8,1866 437.71,1845 450.61,1829 463.52,1815 476.43,1801 489.33,1788 502.24,1771 515.15,1762 528.05,1756.5 540.96,1752 553.87,1750 566.77,1748 579.68,1745 592.59,1742.3 605.49,1740.15 618.4,1738 631.31,1736.33 644.21,1734.67 657.12,1733 670.03,1731.33 682.93,1729.67 695.84,1728 708.75,1727.5 721.65,1727 734.56,1726.5 747.47,1727.67 760.37,1728.83 773.28,1730 786.19,1732 799.09,1734 812,1736"/>
<path stroke="#21a07b" stroke-width="2.6" d="M231.2 2003.7V1983.7M224.5 1983.7H237.9M231.2 2003.7V2023.7M224.5 2023.7H237.9M244.11 2057V2001M237.41 2001H250.81M244.11 2057V2117M237.41 2117H250.81M257.01 2009.5V1978.5M250.31 1978.5H263.71M257.01 2009.5V2110.5M250.31 2110.5H263.71M269.92 1986.4V1956.4M263.22 1956.4H276.62M269.92 1986.4V2045.4M263.22 2045.4H276.62M282.83 2023.7V1985.7M276.13 1985.7H289.53M282.83 2023.7V2097.7M276.13 2097.7H289.53M295.73 2017V1990M289.03 1990H302.43M295.73 2017V2059M289.03 2059H302.43M308.64 1992V1967M301.94 1967H315.34M308.64 1992V2022.6M301.94 2022.6H315.34M321.55 2011.6V1973M314.85 1973H328.25M321.55 2011.6V2082.6M314.85 2082.6H328.25M334.45 2012.7V1975.4M327.75 1975.4H341.15M334.45 2012.7V2090.7M327.75 2090.7H341.15M347.36 1989.5V1969.5M340.66 1969.5H354.06M347.36 1989.5V2014.5M340.66 2014.5H354.06M360.27 1996.6V1976.6M353.57 1976.6H366.97M360.27 1996.6V2049.6M353.57 2049.6H366.97M373.17 1949.3V1929.3M366.47 1929.3H379.87M373.17 1949.3V2007.3M366.47 2007.3H379.87M386.08 1866.6V1820.6M379.38 1820.6H392.78M386.08 1866.6V1926.6M379.38 1926.6H392.78M398.99 1916V1891M392.29 1891H405.69M398.99 1916V1941M392.29 1941H405.69M411.89 1886V1868M405.19 1868H418.59M411.89 1886V1904M405.19 1904H418.59M424.8 1858V1844M418.1 1844H431.5M424.8 1858V1872M418.1 1872H431.5M437.71 1838V1828M431.01 1828H444.41M437.71 1838V1848M431.01 1848H444.41M450.61 1822V1813M443.91 1813H457.31M450.61 1822V1831M443.91 1831H457.31M463.52 1808V1800M456.82 1800H470.22M463.52 1808V1816M456.82 1816H470.22M476.43 1795V1787.5M469.73 1787.5H483.13M476.43 1795V1802.5M469.73 1802.5H483.13M489.33 1782V1775M482.63 1775H496.03M489.33 1782V1789M482.63 1789H496.03M502.24 1769V1762.5M495.54 1762.5H508.94M502.24 1769V1775.5M495.54 1775.5H508.94M515.15 1760V1754M508.45 1754H521.85M515.15 1760V1766M508.45 1766H521.85M528.05 1754.5V1749M521.35 1749H534.75M528.05 1754.5V1760M521.35 1760H534.75M540.96 1750V1745M534.26 1745H547.66M540.96 1750V1755M534.26 1755H547.66M553.87 1748V1743.05M547.17 1743.05H560.57M553.87 1748V1752.95M547.17 1752.95H560.57M566.77 1746V1741.1M560.07 1741.1H573.47M566.77 1746V1750.9M560.07 1750.9H573.47M579.68 1743V1738.14M572.98 1738.14H586.38M579.68 1743V1747.86M572.98 1747.86H586.38M592.59 1740.3V1735.49M585.89 1735.49H599.29M592.59 1740.3V1745.11M585.89 1745.11H599.29M605.49 1738.15V1733.39M598.79 1733.39H612.19M605.49 1738.15V1742.91M598.79 1742.91H612.19M618.4 1736V1731.29M611.7 1731.29H625.1M618.4 1736V1740.71M611.7 1740.71H625.1M631.31 1734.33V1729.67M624.61 1729.67H638.01M631.31 1734.33V1739M624.61 1739H638.01M644.21 1732.67V1728.05M637.51 1728.05H650.91M644.21 1732.67V1737.29M637.51 1737.29H650.91M657.12 1731V1726.43M650.42 1726.43H663.82M657.12 1731V1735.57M650.42 1735.57H663.82M670.03 1729.33V1724.81M663.33 1724.81H676.73M670.03 1729.33V1733.86M663.33 1733.86H676.73M682.93 1727.67V1723.19M676.23 1723.19H689.63M682.93 1727.67V1732.14M676.23 1732.14H689.63M695.84 1726V1721.57M689.14 1721.57H702.54M695.84 1726V1730.43M689.14 1730.43H702.54M708.75 1725.5V1721.12M702.05 1721.12H715.45M708.75 1725.5V1729.88M702.05 1729.88H715.45M721.65 1725V1720.67M714.95 1720.67H728.35M721.65 1725V1729.33M714.95 1729.33H728.35M734.56 1724.5V1720.21M727.86 1720.21H741.26M734.56 1724.5V1728.79M727.86 1728.79H741.26M747.47 1725.67V1721.43M740.77 1721.43H754.17M747.47 1725.67V1729.9M740.77 1729.9H754.17M760.37 1726.83V1722.64M753.67 1722.64H767.07M760.37 1726.83V1731.02M753.67 1731.02H767.07M773.28 1728V1723.86M766.58 1723.86H779.98M773.28 1728V1732.14M766.58 1732.14H779.98M786.19 1730V1725.9M779.49 1725.9H792.89M786.19 1730V1734.1M779.49 1734.1H792.89M799.09 1732V1727.95M792.39 1727.95H805.79M799.09 1732V1736.05M792.39 1736.05H805.79M812 1734V1730M805.3 1730H818.7M812 1734V1738M805.3 1738H818.7"/>
<polyline stroke="#21a07b" stroke-width="2.6" points="231.2,2003.7 244.11,2057 257.01,2009.5 269.92,1986.4 282.83,2023.7 295.73,2017 308.64,1992 321.55,2011.6 334.45,2012.7 347.36,1989.5 360.27,1996.6 373.17,1949.3 386.08,1866.6 398.99,1916 411.89,1886 424.8,1858 437.71,1838 450.61,1822 463.52,1808 476.43,1795 489.33,1782 502.24,1769 515.15,1760 528.05,1754.5 540.96,1750 553.87,1748 566.77,1746 579.68,1743 592.59,1740.3 605.49,1738.15 618.4,1736 631.31,1734.33 644.21,1732.67 657.12,1731 670.03,1729.33 682.93,1727.67 695.84,1726 708.75,1725.5 721.65,1725 734.56,1724.5 747.47,1725.67 760.37,1726.83 773.28,1728 786.19,1730 799.09,1732 812,1734"/>
</g>
<g font-family="'Liberation Sans', Arial, Helvetica, sans-serif" font-size="44" fill="#000">
<text x="192.7" y="1632.9" text-anchor="end">1</text>
<text x="192.7" y="1826.57" text-anchor="end">0<tspan dx="-2.5">.</tspan><tspan dx="-2.5">1</tspan></text>
<text x="192.7" y="2020.23" text-anchor="end">0<tspan dx="-2.5">.</tspan><tspan dx="-2.5">01</tspan></text>
<text x="192.7" y="2213.9" text-anchor="end">0<tspan dx="-2.5">.</tspan><tspan dx="-2.5">001</tspan></text>
<text x="231.2" y="2272.6" text-anchor="middle">0</text>
<text x="424.8" y="2272.6" text-anchor="middle">5</text>
<text x="618.4" y="2272.6" text-anchor="middle">10</text>
<text x="812" y="2272.6" text-anchor="middle">15</text>
</g>
<text font-family="'Liberation Sans', Arial, Helvetica, sans-serif" font-size="47.5" x="521.6" y="2343.6" text-anchor="middle">Time (h)</text>
<text font-family="'Liberation Sans', Arial, Helvetica, sans-serif" font-size="47" transform="translate(44.7 1909.6) rotate(-90)" text-anchor="middle">OD<tspan font-size="35" dy="16">600</tspan><tspan dy="-16"> (a.u.)</tspan></text>
<text font-family="'Liberation Sans', Arial, Helvetica, sans-serif" font-size="48" font-weight="bold" x="131.1" y="1598.5">d.</text>
<g font-family="'Liberation Sans', Arial, Helvetica, sans-serif" font-size="39" font-weight="bold" text-anchor="end">
<text x="763" y="1976.1" fill="#000000">pAND-<tspan font-style="italic">mtrC</tspan></text>
<text x="763" y="2021.2" fill="#21a07b">-/-</text>
<text x="763" y="2066.9" fill="#2e7a8f">+/-</text>
<text x="763" y="2112.6" fill="#494c91">-/+</text>
<text x="763" y="2158.3" fill="#440154">+/+</text>
</g>
<path fill="none" stroke="#000" stroke-width="5.4" stroke-linecap="square" d="M1220.2 1618.6H1801V2199.2H1220.2ZM1220.2 1753.87H1209.4M1220.2 1719.79H1209.4M1220.2 1695.61H1209.4M1220.2 1676.86H1209.4M1220.2 1661.54H1209.4M1220.2 1648.58H1209.4M1220.2 1637.36H1209.4M1220.2 1627.46H1209.4M1220.2 1947.41H1209.4M1220.2 1913.33H1209.4M1220.2 1889.15H1209.4M1220.2 1870.39H1209.4M1220.2 1855.07H1209.4M1220.2 1842.11H1209.4M1220.2 1830.89H1209.4M1220.2 1820.99H1209.4M1220.2 2140.94H1209.4M1220.2 2106.86H1209.4M1220.2 2082.68H1209.4M1220.2 2063.93H1209.4M1220.2 2048.6H1209.4M1220.2 2035.65H1209.4M1220.2 2024.42H1209.4M1220.2 2014.52H1209.4M1220.2 1618.6H1198.6M1220.2 1812.13H1198.6M1220.2 2005.67H1198.6M1220.2 2199.2H1198.6M1220.2 2199.2V2220.8M1413.8 2199.2V2220.8M1607.4 2199.2V2220.8M1801 2199.2V2220.8"/>
<clipPath id="clipe"><rect x="1180.2" y="1518.6" width="660.8" height="680.6"/></clipPath>
<g fill="none" stroke-linecap="butt" stroke-linejoin="round" clip-path="url(#clipe)">
<path stroke="#440154" stroke-width="2.6" d="M1220.2 2001V1997M1213.5 1997H1226.9M1220.2 2001V2005M1213.5 2005H1226.9M1233.11 2001V1997M1226.41 1997H1239.81M1233.11 2001V2005M1226.41 2005H1239.81M1246.01 1996.7V1991.7M1239.31 1991.7H1252.71M1246.01 1996.7V2001.7M1239.31 2001.7H1252.71M1258.92 1980.7V1951.2M1252.22 1951.2H1265.62M1258.92 1980.7V1985.7M1252.22 1985.7H1265.62M1271.83 1968.3V1962.3M1265.13 1962.3H1278.53M1271.83 1968.3V1980.1M1265.13 1980.1H1278.53M1284.73 1967.7V1953.7M1278.03 1953.7H1291.43M1284.73 1967.7V1981.7M1278.03 1981.7H1291.43M1297.64 1960.9V1936.1M1290.94 1936.1H1304.34M1297.64 1960.9V1980.9M1290.94 1980.9H1304.34M1310.55 1942.4V1932.4M1303.85 1932.4H1317.25M1310.55 1942.4V1960.2M1303.85 1960.2H1317.25M1323.45 1944.8V1891.8M1316.75 1891.8H1330.15M1323.45 1944.8V1949.8M1316.75 1949.8H1330.15M1336.36 1916.2V1908.2M1329.66 1908.2H1343.06M1336.36 1916.2V1939.9M1329.66 1939.9H1343.06M1349.27 1922V1900M1342.57 1900H1355.97M1349.27 1922V1928M1342.57 1928H1355.97M1362.17 1912.7V1896M1355.47 1896H1368.87M1362.17 1912.7V1917.7M1355.47 1917.7H1368.87M1375.08 1904.4V1883M1368.38 1883H1381.78M1375.08 1904.4V1912.4M1368.38 1912.4H1381.78M1387.99 1890.2V1878.2M1381.29 1878.2H1394.69M1387.99 1890.2V1899.2M1381.29 1899.2H1394.69M1400.89 1873.7V1865.7M1394.19 1865.7H1407.59M1400.89 1873.7V1879.7M1394.19 1879.7H1407.59M1413.8 1852.4V1846.4M1407.1 1846.4H1420.5M1413.8 1852.4V1857.9M1407.1 1857.9H1420.5M1426.71 1835.8V1830.8M1420.01 1830.8H1433.41M1426.71 1835.8V1840.8M1420.01 1840.8H1433.41M1439.61 1819.3V1814.3M1432.91 1814.3H1446.31M1439.61 1819.3V1824.3M1432.91 1824.3H1446.31M1452.52 1802.7V1797.7M1445.82 1797.7H1459.22M1452.52 1802.7V1807.7M1445.82 1807.7H1459.22M1465.43 1786.2V1781.2M1458.73 1781.2H1472.13M1465.43 1786.2V1791.2M1458.73 1791.2H1472.13M1478.33 1774V1769M1471.63 1769H1485.03M1478.33 1774V1779M1471.63 1779H1485.03M1491.24 1763V1758.25M1484.54 1758.25H1497.94M1491.24 1763V1767.75M1484.54 1767.75H1497.94M1504.15 1752V1747.5M1497.45 1747.5H1510.85M1504.15 1752V1756.5M1497.45 1756.5H1510.85M1517.05 1748V1743.75M1510.35 1743.75H1523.75M1517.05 1748V1752.25M1510.35 1752.25H1523.75M1529.96 1745V1741M1523.26 1741H1536.66M1529.96 1745V1749M1523.26 1749H1536.66M1542.87 1743V1739M1536.17 1739H1549.57M1542.87 1743V1747M1536.17 1747H1549.57M1555.77 1741V1737M1549.07 1737H1562.47M1555.77 1741V1745M1549.07 1745H1562.47M1568.68 1739V1735M1561.98 1735H1575.38M1568.68 1739V1743M1561.98 1743H1575.38M1581.59 1737V1733M1574.89 1733H1588.29M1581.59 1737V1741M1574.89 1741H1588.29M1594.49 1735V1731M1587.79 1731H1601.19M1594.49 1735V1739M1587.79 1739H1601.19M1607.4 1733V1729M1600.7 1729H1614.1M1607.4 1733V1737M1600.7 1737H1614.1M1620.31 1731.33V1727.33M1613.61 1727.33H1627.01M1620.31 1731.33V1735.33M1613.61 1735.33H1627.01M1633.21 1729.67V1725.67M1626.51 1725.67H1639.91M1633.21 1729.67V1733.67M1626.51 1733.67H1639.91M1646.12 1728V1724M1639.42 1724H1652.82M1646.12 1728V1732M1639.42 1732H1652.82M1659.03 1727V1723M1652.33 1723H1665.73M1659.03 1727V1731M1652.33 1731H1665.73M1671.93 1726V1722M1665.23 1722H1678.63M1671.93 1726V1730M1665.23 1730H1678.63M1684.84 1725V1721M1678.14 1721H1691.54M1684.84 1725V1729M1678.14 1729H1691.54M1697.75 1724.33V1720.33M1691.05 1720.33H1704.45M1697.75 1724.33V1728.33M1691.05 1728.33H1704.45M1710.65 1723.67V1719.67M1703.95 1719.67H1717.35M1710.65 1723.67V1727.67M1703.95 1727.67H1717.35M1723.56 1723V1719M1716.86 1719H1730.26M1723.56 1723V1727M1716.86 1727H1730.26M1736.47 1723.67V1719.67M1729.77 1719.67H1743.17M1736.47 1723.67V1727.67M1729.77 1727.67H1743.17M1749.37 1724.33V1720.33M1742.67 1720.33H1756.07M1749.37 1724.33V1728.33M1742.67 1728.33H1756.07M1762.28 1725V1721M1755.58 1721H1768.98M1762.28 1725V1729M1755.58 1729H1768.98M1775.19 1727V1723M1768.49 1723H1781.89M1775.19 1727V1731M1768.49 1731H1781.89M1788.09 1729V1725M1781.39 1725H1794.79M1788.09 1729V1733M1781.39 1733H1794.79M1801 1731V1727M1794.3 1727H1807.7M1801 1731V1735M1794.3 1735H1807.7"/>
<polyline stroke="#440154" stroke-width="2.6" points="1220.2,2001 1233.11,2001 1246.01,1996.7 1258.92,1980.7 1271.83,1968.3 1284.73,1967.7 1297.64,1960.9 1310.55,1942.4 1323.45,1944.8 1336.36,1916.2 1349.27,1922 1362.17,1912.7 1375.08,1904.4 1387.99,1890.2 1400.89,1873.7 1413.8,1852.4 1426.71,1835.8 1439.61,1819.3 1452.52,1802.7 1465.43,1786.2 1478.33,1774 1491.24,1763 1504.15,1752 1517.05,1748 1529.96,1745 1542.87,1743 1555.77,1741 1568.68,1739 1581.59,1737 1594.49,1735 1607.4,1733 1620.31,1731.33 1633.21,1729.67 1646.12,1728 1659.03,1727 1671.93,1726 1684.84,1725 1697.75,1724.33 1710.65,1723.67 1723.56,1723 1736.47,1723.67 1749.37,1724.33 1762.28,1725 1775.19,1727 1788.09,1729 1801,1731"/>
<path stroke="#494c91" stroke-width="2.6" d="M1233.11 2106V2101M1226.41 2101H1239.81M1233.11 2106V2111M1226.41 2111H1239.81M1246.01 2174.7V2169.7M1239.31 2169.7H1252.71M1246.01 2174.7V2179.7M1239.31 2179.7H1252.71M1258.92 2077V2047M1252.22 2047H1265.62M1258.92 2077V2097M1252.22 2097H1265.62M1271.83 2094.4V2074.4M1265.13 2074.4H1278.53M1271.83 2094.4V2135.4M1265.13 2135.4H1278.53M1284.73 2089V2069M1278.03 2069H1291.43M1284.73 2089V2109M1278.03 2109H1291.43M1297.64 2058.6V2005.6M1290.94 2005.6H1304.34M1297.64 2058.6V2078.6M1290.94 2078.6H1304.34M1310.55 2037.5V2007.5M1303.85 2007.5H1317.25M1310.55 2037.5V2122.2M1303.85 2122.2H1317.25M1323.45 2083.3V2023.3M1316.75 2023.3H1330.15M1323.45 2083.3V2093.3M1316.75 2093.3H1330.15M1336.36 1985.6V1953.6M1329.66 1953.6H1343.06M1336.36 1985.6V2016.6M1329.66 2016.6H1343.06M1349.27 2028.9V1996.9M1342.57 1996.9H1355.97M1349.27 2028.9V2078.9M1342.57 2078.9H1355.97M1362.17 2004.2V1971.2M1355.47 1971.2H1368.87M1362.17 2004.2V2030.7M1355.47 2030.7H1368.87M1375.08 1975.3V1955.3M1368.38 1955.3H1381.78M1375.08 1975.3V1995.3M1368.38 1995.3H1381.78M1387.99 1932.8V1917.8M1381.29 1917.8H1394.69M1387.99 1932.8V1947.8M1381.29 1947.8H1394.69M1400.89 1899.7V1887.7M1394.19 1887.7H1407.59M1400.89 1899.7V1911.7M1394.19 1911.7H1407.59M1413.8 1870V1859.5M1407.1 1859.5H1420.5M1413.8 1870V1880.5M1407.1 1880.5H1420.5M1426.71 1850V1841M1420.01 1841H1433.41M1426.71 1850V1859M1420.01 1859H1433.41M1439.61 1832V1823.5M1432.91 1823.5H1446.31M1439.61 1832V1840.5M1432.91 1840.5H1446.31M1452.52 1815V1807M1445.82 1807H1459.22M1452.52 1815V1823M1445.82 1823H1459.22M1465.43 1799V1791.5M1458.73 1791.5H1472.13M1465.43 1799V1806.5M1458.73 1806.5H1472.13M1478.33 1782V1775M1471.63 1775H1485.03M1478.33 1782V1789M1471.63 1789H1485.03M1491.24 1767V1760.5M1484.54 1760.5H1497.94M1491.24 1767V1773.5M1484.54 1773.5H1497.94M1504.15 1756V1750M1497.45 1750H1510.85M1504.15 1756V1762M1497.45 1762H1510.85M1517.05 1752V1746.5M1510.35 1746.5H1523.75M1517.05 1752V1757.5M1510.35 1757.5H1523.75M1529.96 1749V1744M1523.26 1744H1536.66M1529.96 1749V1754M1523.26 1754H1536.66M1542.87 1747V1742.05M1536.17 1742.05H1549.57M1542.87 1747V1751.95M1536.17 1751.95H1549.57M1555.77 1745V1740.1M1549.07 1740.1H1562.47M1555.77 1745V1749.9M1549.07 1749.9H1562.47M1568.68 1743V1738.14M1561.98 1738.14H1575.38M1568.68 1743V1747.86M1561.98 1747.86H1575.38M1581.59 1741V1736.19M1574.89 1736.19H1588.29M1581.59 1741V1745.81M1574.89 1745.81H1588.29M1594.49 1739V1734.24M1587.79 1734.24H1601.19M1594.49 1739V1743.76M1587.79 1743.76H1601.19M1607.4 1737V1732.29M1600.7 1732.29H1614.1M1607.4 1737V1741.71M1600.7 1741.71H1614.1M1620.31 1735.33V1730.67M1613.61 1730.67H1627.01M1620.31 1735.33V1740M1613.61 1740H1627.01M1633.21 1733.67V1729.05M1626.51 1729.05H1639.91M1633.21 1733.67V1738.29M1626.51 1738.29H1639.91M1646.12 1732V1727.43M1639.42 1727.43H1652.82M1646.12 1732V1736.57M1639.42 1736.57H1652.82M1659.03 1731V1726.48M1652.33 1726.48H1665.73M1659.03 1731V1735.52M1652.33 1735.52H1665.73M1671.93 1730V1725.52M1665.23 1725.52H1678.63M1671.93 1730V1734.48M1665.23 1734.48H1678.63M1684.84 1729V1724.57M1678.14 1724.57H1691.54M1684.84 1729V1733.43M1678.14 1733.43H1691.54M1697.75 1728.33V1723.95M1691.05 1723.95H1704.45M1697.75 1728.33V1732.71M1691.05 1732.71H1704.45M1710.65 1727.67V1723.33M1703.95 1723.33H1717.35M1710.65 1727.67V1732M1703.95 1732H1717.35M1723.56 1727V1722.71M1716.86 1722.71H1730.26M1723.56 1727V1731.29M1716.86 1731.29H1730.26M1736.47 1727.67V1723.43M1729.77 1723.43H1743.17M1736.47 1727.67V1731.9M1729.77 1731.9H1743.17M1749.37 1728.33V1724.14M1742.67 1724.14H1756.07M1749.37 1728.33V1732.52M1742.67 1732.52H1756.07M1762.28 1729V1724.86M1755.58 1724.86H1768.98M1762.28 1729V1733.14M1755.58 1733.14H1768.98M1775.19 1731V1726.9M1768.49 1726.9H1781.89M1775.19 1731V1735.1M1768.49 1735.1H1781.89M1788.09 1733V1728.95M1781.39 1728.95H1794.79M1788.09 1733V1737.05M1781.39 1737.05H1794.79M1801 1735V1731M1794.3 1731H1807.7M1801 1735V1739M1794.3 1739H1807.7"/>
<polyline stroke="#494c91" stroke-width="2.6" points="1220.2,2120 1233.11,2106 1246.01,2174.7 1258.92,2077 1271.83,2094.4 1284.73,2089 1297.64,2058.6 1310.55,2037.5 1323.45,2083.3 1336.36,1985.6 1349.27,2028.9 1362.17,2004.2 1375.08,1975.3 1387.99,1932.8 1400.89,1899.7 1413.8,1870 1426.71,1850 1439.61,1832 1452.52,1815 1465.43,1799 1478.33,1782 1491.24,1767 1504.15,1756 1517.05,1752 1529.96,1749 1542.87,1747 1555.77,1745 1568.68,1743 1581.59,1741 1594.49,1739 1607.4,1737 1620.31,1735.33 1633.21,1733.67 1646.12,1732 1659.03,1731 1671.93,1730 1684.84,1729 1697.75,1728.33 1710.65,1727.67 1723.56,1727 1736.47,1727.67 1749.37,1728.33 1762.28,1729 1775.19,1731 1788.09,1733 1801,1735"/>
<path stroke="#2e7a8f" stroke-width="2.6" d="M1233.11 2106.8V2047.8M1226.41 2047.8H1239.81M1246.01 2106.8V2042.8M1239.31 2042.8H1252.71M1258.92 2077V2053M1252.22 2053H1265.62M1258.92 2077V2097M1252.22 2097H1265.62M1271.83 2095.6V2050.6M1265.13 2050.6H1278.53M1271.83 2095.6V2110.6M1265.13 2110.6H1278.53M1284.73 2089.5V2069.5M1278.03 2069.5H1291.43M1284.73 2089.5V2109.5M1278.03 2109.5H1291.43M1297.64 2060V2045M1290.94 2045H1304.34M1297.64 2060V2098.7M1290.94 2098.7H1304.34M1310.55 2030V2010M1303.85 2010H1317.25M1310.55 2030V2050M1303.85 2050H1317.25M1323.45 2040V2025M1316.75 2025H1330.15M1323.45 2040V2055M1316.75 2055H1330.15M1336.36 1987V1972M1329.66 1972H1343.06M1336.36 1987V2002M1329.66 2002H1343.06M1349.27 2010.8V1995.8M1342.57 1995.8H1355.97M1349.27 2010.8V2025.8M1342.57 2025.8H1355.97M1362.17 2003.7V1988.7M1355.47 1988.7H1368.87M1362.17 2003.7V2018.7M1355.47 2018.7H1368.87M1375.08 1970.6V1955.6M1368.38 1955.6H1381.78M1375.08 1970.6V1985.6M1368.38 1985.6H1381.78M1387.99 1925.7V1913.7M1381.29 1913.7H1394.69M1387.99 1925.7V1937.7M1381.29 1937.7H1394.69M1400.89 1895V1885M1394.19 1885H1407.59M1400.89 1895V1905M1394.19 1905H1407.59M1413.8 1866.6V1857.6M1407.1 1857.6H1420.5M1413.8 1866.6V1875.6M1407.1 1875.6H1420.5M1426.71 1847.7V1839.7M1420.01 1839.7H1433.41M1426.71 1847.7V1855.7M1420.01 1855.7H1433.41M1439.61 1830V1822.25M1432.91 1822.25H1446.31M1439.61 1830V1837.75M1432.91 1837.75H1446.31M1452.52 1813V1805.5M1445.82 1805.5H1459.22M1452.52 1813V1820.5M1445.82 1820.5H1459.22M1465.43 1796V1788.75M1458.73 1788.75H1472.13M1465.43 1796V1803.25M1458.73 1803.25H1472.13M1478.33 1780V1773M1471.63 1773H1485.03M1478.33 1780V1787M1471.63 1787H1485.03M1491.24 1768V1761.5M1484.54 1761.5H1497.94M1491.24 1768V1774.5M1484.54 1774.5H1497.94M1504.15 1757V1751M1497.45 1751H1510.85M1504.15 1757V1763M1497.45 1763H1510.85M1517.05 1753V1747.5M1510.35 1747.5H1523.75M1517.05 1753V1758.5M1510.35 1758.5H1523.75M1529.96 1750V1745M1523.26 1745H1536.66M1529.96 1750V1755M1523.26 1755H1536.66M1542.87 1748V1743.05M1536.17 1743.05H1549.57M1542.87 1748V1752.95M1536.17 1752.95H1549.57M1555.77 1746V1741.1M1549.07 1741.1H1562.47M1555.77 1746V1750.9M1549.07 1750.9H1562.47M1568.68 1744V1739.14M1561.98 1739.14H1575.38M1568.68 1744V1748.86M1561.98 1748.86H1575.38M1581.59 1742V1737.19M1574.89 1737.19H1588.29M1581.59 1742V1746.81M1574.89 1746.81H1588.29M1594.49 1740V1735.24M1587.79 1735.24H1601.19M1594.49 1740V1744.76M1587.79 1744.76H1601.19M1607.4 1738V1733.29M1600.7 1733.29H1614.1M1607.4 1738V1742.71M1600.7 1742.71H1614.1M1620.31 1736.33V1731.67M1613.61 1731.67H1627.01M1620.31 1736.33V1741M1613.61 1741H1627.01M1633.21 1734.67V1730.05M1626.51 1730.05H1639.91M1633.21 1734.67V1739.29M1626.51 1739.29H1639.91M1646.12 1733V1728.43M1639.42 1728.43H1652.82M1646.12 1733V1737.57M1639.42 1737.57H1652.82M1659.03 1732V1727.48M1652.33 1727.48H1665.73M1659.03 1732V1736.52M1652.33 1736.52H1665.73M1671.93 1731V1726.52M1665.23 1726.52H1678.63M1671.93 1731V1735.48M1665.23 1735.48H1678.63M1684.84 1730V1725.57M1678.14 1725.57H1691.54M1684.84 1730V1734.43M1678.14 1734.43H1691.54M1697.75 1729.33V1724.95M1691.05 1724.95H1704.45M1697.75 1729.33V1733.71M1691.05 1733.71H1704.45M1710.65 1728.67V1724.33M1703.95 1724.33H1717.35M1710.65 1728.67V1733M1703.95 1733H1717.35M1723.56 1728V1723.71M1716.86 1723.71H1730.26M1723.56 1728V1732.29M1716.86 1732.29H1730.26M1736.47 1728.67V1724.43M1729.77 1724.43H1743.17M1736.47 1728.67V1732.9M1729.77 1732.9H1743.17M1749.37 1729.33V1725.14M1742.67 1725.14H1756.07M1749.37 1729.33V1733.52M1742.67 1733.52H1756.07M1762.28 1730V1725.86M1755.58 1725.86H1768.98M1762.28 1730V1734.14M1755.58 1734.14H1768.98M1775.19 1732V1727.9M1768.49 1727.9H1781.89M1775.19 1732V1736.1M1768.49 1736.1H1781.89M1788.09 1734V1729.95M1781.39 1729.95H1794.79M1788.09 1734V1738.05M1781.39 1738.05H1794.79M1801 1736V1732M1794.3 1732H1807.7M1801 1736V1740M1794.3 1740H1807.7"/>
<polyline stroke="#2e7a8f" stroke-width="2.6" points="1220.2,2127 1233.11,2106.8 1246.01,2106.8 1258.92,2077 1271.83,2095.6 1284.73,2089.5 1297.64,2060 1310.55,2030 1323.45,2040 1336.36,1987 1349.27,2010.8 1362.17,2003.7 1375.08,1970.6 1387.99,1925.7 1400.89,1895 1413.8,1866.6 1426.71,1847.7 1439.61,1830 1452.52,1813 1465.43,1796 1478.33,1780 1491.24,1768 1504.15,1757 1517.05,1753 1529.96,1750 1542.87,1748 1555.77,1746 1568.68,1744 1581.59,1742 1594.49,1740 1607.4,1738 1620.31,1736.33 1633.21,1734.67 1646.12,1733 1659.03,1732 1671.93,1731 1684.84,1730 1697.75,1729.33 1710.65,1728.67 1723.56,1728 1736.47,1728.67 1749.37,1729.33 1762.28,1730 1775.19,1732 1788.09,1734 1801,1736"/>
<path stroke="#21a07b" stroke-width="2.6" d="M1220.2 2127.8V1959.8M1213.5 1959.8H1226.9M1233.11 2084.5V2017.5M1226.41 2017.5H1239.81M1233.11 2084.5V2104.5M1226.41 2104.5H1239.81M1246.01 2043.7V1997.7M1239.31 1997.7H1252.71M1246.01 2043.7V2122.2M1239.31 2122.2H1252.71M1258.92 2015.3V1997.3M1252.22 1997.3H1265.62M1258.92 2015.3V2036.3M1252.22 2036.3H1265.62M1271.83 2035V2010M1265.13 2010H1278.53M1271.83 2035V2060M1265.13 2060H1278.53M1284.73 2047.4V2001.4M1278.03 2001.4H1291.43M1284.73 2047.4V2170.4M1278.03 2170.4H1291.43M1297.64 2028.9V2008.9M1290.94 2008.9H1304.34M1297.64 2028.9V2048.9M1290.94 2048.9H1304.34M1310.55 1998V1989M1303.85 1989H1317.25M1310.55 1998V2008M1303.85 2008H1317.25M1323.45 2006.6V1984.6M1316.75 1984.6H1330.15M1323.45 2006.6V2051.6M1316.75 2051.6H1330.15M1336.36 1979.4V1970.4M1329.66 1970.4H1343.06M1336.36 1979.4V1989.4M1329.66 1989.4H1343.06M1349.27 1994.3V1982.3M1342.57 1982.3H1355.97M1349.27 1994.3V2006.3M1342.57 2006.3H1355.97M1362.17 1970.6V1958.6M1355.47 1958.6H1368.87M1362.17 1970.6V1982.6M1355.47 1982.6H1368.87M1375.08 1942.2V1930.2M1368.38 1930.2H1381.78M1375.08 1942.2V1954.2M1368.38 1954.2H1381.78M1387.99 1909V1897M1381.29 1897H1394.69M1387.99 1909V1921M1381.29 1921H1394.69M1400.89 1885.5V1875.5M1394.19 1875.5H1407.59M1400.89 1885.5V1895.5M1394.19 1895.5H1407.59M1413.8 1859.5V1850.5M1407.1 1850.5H1420.5M1413.8 1859.5V1868.5M1407.1 1868.5H1420.5M1426.71 1840.6V1832.6M1420.01 1832.6H1433.41M1426.71 1840.6V1848.6M1420.01 1848.6H1433.41M1439.61 1824V1816.5M1432.91 1816.5H1446.31M1439.61 1824V1831.5M1432.91 1831.5H1446.31M1452.52 1807.5V1800.5M1445.82 1800.5H1459.22M1452.52 1807.5V1814.5M1445.82 1814.5H1459.22M1465.43 1791V1784.5M1458.73 1784.5H1472.13M1465.43 1791V1797.5M1458.73 1797.5H1472.13M1478.33 1777V1771M1471.63 1771H1485.03M1478.33 1777V1783M1471.63 1783H1485.03M1491.24 1766V1760.25M1484.54 1760.25H1497.94M1491.24 1766V1771.75M1484.54 1771.75H1497.94M1504.15 1755V1749.5M1497.45 1749.5H1510.85M1504.15 1755V1760.5M1497.45 1760.5H1510.85M1517.05 1751V1745.75M1510.35 1745.75H1523.75M1517.05 1751V1756.25M1510.35 1756.25H1523.75M1529.96 1748V1743M1523.26 1743H1536.66M1529.96 1748V1753M1523.26 1753H1536.66M1542.87 1746V1741.05M1536.17 1741.05H1549.57M1542.87 1746V1750.95M1536.17 1750.95H1549.57M1555.77 1744V1739.1M1549.07 1739.1H1562.47M1555.77 1744V1748.9M1549.07 1748.9H1562.47M1568.68 1742V1737.14M1561.98 1737.14H1575.38M1568.68 1742V1746.86M1561.98 1746.86H1575.38M1581.59 1740V1735.19M1574.89 1735.19H1588.29M1581.59 1740V1744.81M1574.89 1744.81H1588.29M1594.49 1738V1733.24M1587.79 1733.24H1601.19M1594.49 1738V1742.76M1587.79 1742.76H1601.19M1607.4 1736V1731.29M1600.7 1731.29H1614.1M1607.4 1736V1740.71M1600.7 1740.71H1614.1M1620.31 1734.33V1729.67M1613.61 1729.67H1627.01M1620.31 1734.33V1739M1613.61 1739H1627.01M1633.21 1732.67V1728.05M1626.51 1728.05H1639.91M1633.21 1732.67V1737.29M1626.51 1737.29H1639.91M1646.12 1731V1726.43M1639.42 1726.43H1652.82M1646.12 1731V1735.57M1639.42 1735.57H1652.82M1659.03 1730V1725.48M1652.33 1725.48H1665.73M1659.03 1730V1734.52M1652.33 1734.52H1665.73M1671.93 1729V1724.52M1665.23 1724.52H1678.63M1671.93 1729V1733.48M1665.23 1733.48H1678.63M1684.84 1728V1723.57M1678.14 1723.57H1691.54M1684.84 1728V1732.43M1678.14 1732.43H1691.54M1697.75 1727.33V1722.95M1691.05 1722.95H1704.45M1697.75 1727.33V1731.71M1691.05 1731.71H1704.45M1710.65 1726.67V1722.33M1703.95 1722.33H1717.35M1710.65 1726.67V1731M1703.95 1731H1717.35M1723.56 1726V1721.71M1716.86 1721.71H1730.26M1723.56 1726V1730.29M1716.86 1730.29H1730.26M1736.47 1726.67V1722.43M1729.77 1722.43H1743.17M1736.47 1726.67V1730.9M1729.77 1730.9H1743.17M1749.37 1727.33V1723.14M1742.67 1723.14H1756.07M1749.37 1727.33V1731.52M1742.67 1731.52H1756.07M1762.28 1728V1723.86M1755.58 1723.86H1768.98M1762.28 1728V1732.14M1755.58 1732.14H1768.98M1775.19 1730V1725.9M1768.49 1725.9H1781.89M1775.19 1730V1734.1M1768.49 1734.1H1781.89M1788.09 1732V1727.95M1781.39 1727.95H1794.79M1788.09 1732V1736.05M1781.39 1736.05H1794.79M1801 1734V1730M1794.3 1730H1807.7M1801 1734V1738M1794.3 1738H1807.7"/>
<polyline stroke="#21a07b" stroke-width="2.6" points="1220.2,2127.8 1233.11,2084.5 1246.01,2043.7 1258.92,2015.3 1271.83,2035 1284.73,2047.4 1297.64,2028.9 1310.55,1998 1323.45,2006.6 1336.36,1979.4 1349.27,1994.3 1362.17,1970.6 1375.08,1942.2 1387.99,1909 1400.89,1885.5 1413.8,1859.5 1426.71,1840.6 1439.61,1824 1452.52,1807.5 1465.43,1791 1478.33,1777 1491.24,1766 1504.15,1755 1517.05,1751 1529.96,1748 1542.87,1746 1555.77,1744 1568.68,1742 1581.59,1740 1594.49,1738 1607.4,1736 1620.31,1734.33 1633.21,1732.67 1646.12,1731 1659.03,1730 1671.93,1729 1684.84,1728 1697.75,1727.33 1710.65,1726.67 1723.56,1726 1736.47,1726.67 1749.37,1727.33 1762.28,1728 1775.19,1730 1788.09,1732 1801,1734"/>
</g>
<g font-family="'Liberation Sans', Arial, Helvetica, sans-serif" font-size="44" fill="#000">
<text x="1181.7" y="1633.2" text-anchor="end">1</text>
<text x="1181.7" y="1826.73" text-anchor="end">0<tspan dx="-2.5">.</tspan><tspan dx="-2.5">1</tspan></text>
<text x="1181.7" y="2020.27" text-anchor="end">0<tspan dx="-2.5">.</tspan><tspan dx="-2.5">01</tspan></text>
<text x="1181.7" y="2213.8" text-anchor="end">0<tspan dx="-2.5">.</tspan><tspan dx="-2.5">001</tspan></text>
<text x="1220.2" y="2272.5" text-anchor="middle">0</text>
<text x="1413.8" y="2272.5" text-anchor="middle">5</text>
<text x="1607.4" y="2272.5" text-anchor="middle">10</text>
<text x="1801" y="2272.5" text-anchor="middle">15</text>
</g>
<text font-family="'Liberation Sans', Arial, Helvetica, sans-serif" font-size="47.5" x="1510.6" y="2343.5" text-anchor="middle">Time (h)</text>
<text font-family="'Liberation Sans', Arial, Helvetica, sans-serif" font-size="47" transform="translate(1033.7 1909.7) rotate(-90)" text-anchor="middle">OD<tspan font-size="35" dy="16">600</tspan><tspan dy="-16"> (a.u.)</tspan></text>
<text font-family="'Liberation Sans', Arial, Helvetica, sans-serif" font-size="48" font-weight="bold" x="1111.8" y="1598.5">e.</text>
<g font-family="'Liberation Sans', Arial, Helvetica, sans-serif" font-size="39" font-weight="bold" text-anchor="end">
<text x="1752.5" y="1976.5" fill="#000000">pAND-<tspan font-style="italic">mtrC</tspan></text>
<text x="1752.5" y="2021.2" fill="#21a07b">-/-</text>
<text x="1752.5" y="2066.9" fill="#2e7a8f">+/-</text>
<text x="1752.5" y="2112.6" fill="#494c91">-/+</text>
<text x="1752.5" y="2158.3" fill="#440154">+/+</text>
</g>
</svg>
</body></html>
